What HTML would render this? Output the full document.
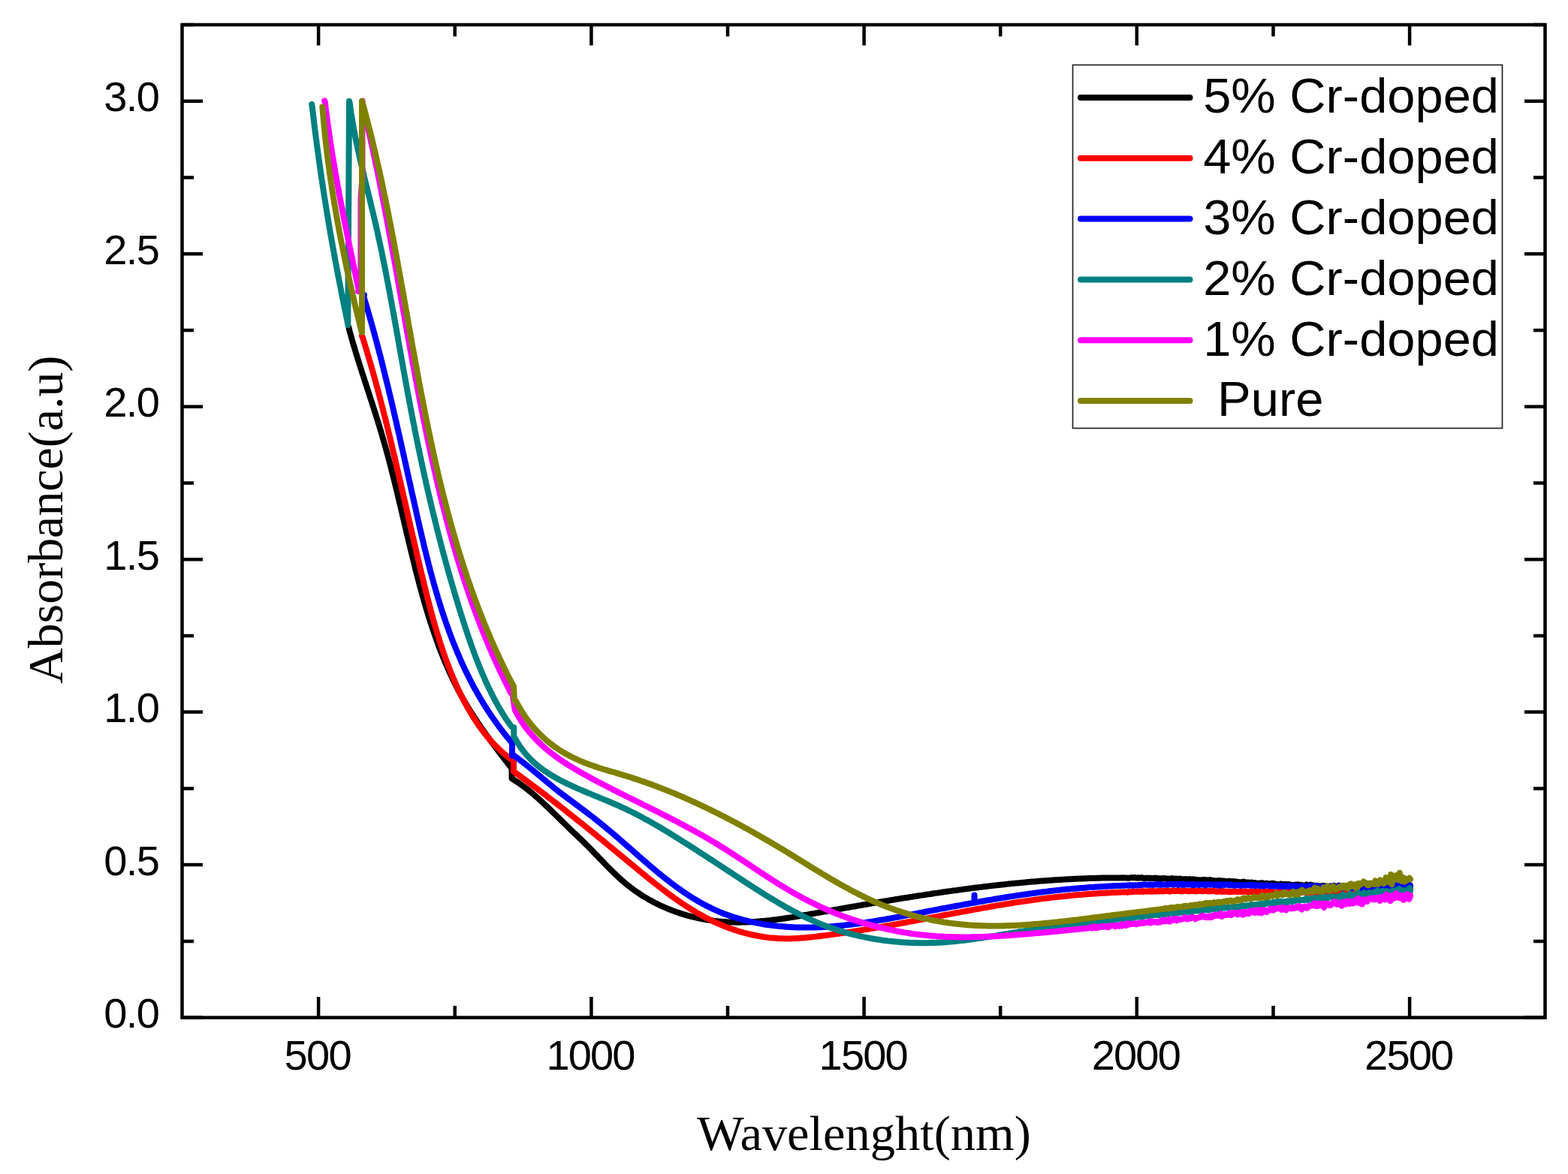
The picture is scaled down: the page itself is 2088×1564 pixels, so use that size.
<!DOCTYPE html>
<html><head><meta charset="utf-8"><title>Absorbance spectra</title>
<style>html,body{margin:0;padding:0;background:#fff;}svg{display:block;}</style></head>
<body>
<svg width="2088" height="1564" viewBox="0 0 2088 1564">
<rect width="2088" height="1564" fill="#ffffff"/>
<g fill="none" stroke-width="8.0" stroke-linejoin="round" stroke-linecap="round">
<path d="M464.4,436.0 L464.9,438.5 L465.5,440.9 L466.2,443.3 L466.9,445.8 L467.6,448.2 L468.2,450.6 L468.9,453.0 L469.6,455.4 L470.3,457.9 L471.0,460.3 L471.8,462.7 L472.5,465.1 L473.2,467.5 L473.9,469.9 L474.7,472.3 L475.4,474.7 L476.2,477.2 L476.9,479.6 L477.7,482.0 L478.4,484.4 L479.2,486.8 L479.9,489.2 L480.7,491.6 L481.5,494.0 L482.2,496.4 L483.0,498.8 L483.8,501.2 L484.6,503.6 L485.3,506.0 L486.1,508.4 L486.9,510.8 L487.7,513.1 L488.4,515.5 L489.2,517.9 L490.0,520.3 L490.8,522.7 L491.6,525.1 L492.3,527.5 L493.1,529.9 L493.9,532.3 L494.7,534.7 L495.5,537.1 L496.2,539.5 L497.0,541.9 L497.8,544.3 L498.5,546.7 L499.3,549.1 L500.1,551.5 L500.8,553.9 L501.6,556.3 L502.3,558.7 L503.1,561.1 L503.8,563.5 L504.6,565.9 L505.3,568.3 L506.0,570.7 L506.8,573.1 L507.5,575.6 L508.2,578.0 L508.9,580.4 L509.6,582.8 L510.3,585.2 L511.0,587.6 L511.7,590.0 L512.4,592.5 L513.1,594.9 L513.8,597.3 L514.4,599.7 L515.1,602.2 L515.8,604.6 L516.4,607.0 L517.1,609.4 L517.7,611.9 L518.4,614.3 L519.0,616.7 L519.6,619.2 L520.3,621.6 L520.9,624.0 L521.5,626.5 L522.1,628.9 L522.8,631.4 L523.4,633.8 L524.0,636.2 L524.6,638.7 L525.2,641.1 L525.8,643.6 L526.4,646.0 L527.0,648.4 L527.6,650.9 L528.2,653.3 L528.8,655.8 L529.4,658.2 L530.0,660.7 L530.5,663.1 L531.1,665.6 L531.7,668.0 L532.3,670.5 L532.9,672.9 L533.5,675.4 L534.0,677.8 L534.6,680.3 L535.2,682.7 L535.8,685.2 L536.3,687.6 L536.9,690.1 L537.5,692.5 L538.1,695.0 L538.6,697.4 L539.2,699.9 L539.8,702.3 L540.4,704.8 L540.9,707.3 L541.5,709.7 L542.1,712.2 L542.7,714.6 L543.3,717.1 L543.8,719.5 L544.4,722.0 L545.0,724.4 L545.6,726.9 L546.2,729.3 L546.8,731.8 L547.4,734.2 L548.0,736.7 L548.6,739.1 L549.2,741.6 L549.8,744.0 L550.4,746.5 L551.0,748.9 L551.6,751.4 L552.2,753.8 L552.8,756.3 L553.4,758.7 L554.0,761.2 L554.7,763.6 L555.3,766.0 L555.9,768.5 L556.6,770.9 L557.2,773.4 L557.8,775.8 L558.5,778.3 L559.1,780.7 L559.8,783.1 L560.5,785.6 L561.1,788.0 L561.8,790.4 L562.5,792.9 L563.2,795.3 L563.9,797.7 L564.5,800.2 L565.2,802.6 L565.9,805.0 L566.7,807.4 L567.4,809.8 L568.1,812.3 L568.8,814.7 L569.6,817.1 L570.3,819.5 L571.0,821.9 L571.8,824.3 L572.6,826.7 L573.3,829.1 L574.1,831.5 L574.9,833.9 L575.7,836.3 L576.5,838.7 L577.3,841.1 L578.1,843.4 L578.9,845.8 L579.8,848.2 L580.6,850.6 L581.4,852.9 L582.3,855.3 L583.2,857.7 L584.0,860.0 L584.9,862.4 L585.8,864.7 L586.7,867.0 L587.6,869.4 L588.6,871.7 L589.5,874.0 L590.4,876.4 L591.4,878.7 L592.3,881.0 L593.3,883.3 L594.3,885.6 L595.3,887.9 L596.3,890.2 L597.3,892.5 L598.3,894.8 L599.4,897.0 L600.4,899.3 L601.5,901.6 L602.5,903.8 L603.6,906.1 L604.7,908.3 L605.8,910.6 L606.9,912.8 L608.1,915.1 L609.2,917.3 L610.4,919.5 L611.5,921.7 L612.7,923.9 L613.9,926.1 L615.1,928.3 L616.3,930.5 L617.6,932.7 L618.8,934.8 L620.1,937.0 L621.3,939.1 L622.6,941.3 L623.9,943.4 L625.2,945.6 L626.6,947.7 L627.9,949.8 L629.2,951.9 L630.6,954.1 L632.0,956.2 L633.4,958.3 L634.7,960.3 L636.1,962.4 L637.6,964.5 L639.0,966.6 L640.4,968.7 L641.8,970.7 L643.3,972.8 L644.7,974.9 L646.2,976.9 L647.7,979.0 L649.1,981.0 L650.6,983.0 L652.1,985.1 L653.6,987.1 L655.1,989.2 L656.6,991.2 L658.1,993.2 L659.6,995.2 L661.2,997.2 L662.7,999.3 L664.2,1001.3 L665.7,1003.3 L667.3,1005.3 L668.8,1007.3 L670.4,1009.3 L671.9,1011.3 L673.4,1013.3 L675.0,1015.3 L676.5,1017.3 L678.1,1019.3 L679.6,1021.3 L681.2,1023.3 L681.5,1026.0 L681.5,1037.0 L683.5,1038.5 L685.7,1039.8 L687.8,1041.2 L689.9,1042.5 L692.0,1044.0 L694.0,1045.4 L696.1,1046.9 L698.1,1048.4 L700.1,1049.9 L702.1,1051.4 L704.0,1053.0 L706.0,1054.5 L707.9,1056.1 L709.8,1057.7 L711.7,1059.3 L713.6,1061.0 L715.5,1062.6 L717.4,1064.3 L719.2,1066.0 L721.1,1067.7 L722.9,1069.4 L724.7,1071.1 L726.5,1072.8 L728.4,1074.5 L730.2,1076.2 L732.0,1078.0 L733.8,1079.7 L735.5,1081.5 L737.3,1083.2 L739.1,1084.9 L740.9,1086.7 L742.7,1088.4 L744.5,1090.2 L746.2,1091.9 L748.0,1093.7 L749.8,1095.4 L751.6,1097.2 L753.4,1098.9 L755.2,1100.6 L757.0,1102.4 L758.7,1104.1 L760.5,1105.8 L762.3,1107.6 L764.1,1109.3 L765.9,1111.0 L767.7,1112.7 L769.6,1114.5 L771.4,1116.2 L773.2,1117.9 L775.0,1119.7 L776.8,1121.4 L778.5,1123.1 L780.3,1124.9 L782.1,1126.7 L783.9,1128.4 L785.6,1130.2 L787.4,1132.0 L789.1,1133.8 L790.9,1135.6 L792.6,1137.5 L794.4,1139.3 L796.1,1141.1 L797.9,1142.9 L799.6,1144.7 L801.4,1146.5 L803.1,1148.3 L804.9,1150.2 L806.6,1152.0 L808.4,1153.8 L810.2,1155.6 L811.9,1157.3 L813.7,1159.1 L815.5,1160.9 L817.3,1162.6 L819.1,1164.4 L821.0,1166.1 L822.8,1167.8 L824.6,1169.5 L826.5,1171.2 L828.4,1172.9 L830.2,1174.5 L832.2,1176.2 L834.1,1177.8 L836.0,1179.3 L838.0,1180.9 L839.9,1182.4 L841.9,1183.9 L843.9,1185.4 L846.0,1186.9 L848.0,1188.3 L850.1,1189.7 L852.2,1191.1 L854.3,1192.5 L856.4,1193.8 L858.5,1195.1 L860.7,1196.4 L862.8,1197.7 L865.0,1198.9 L867.2,1200.1 L869.4,1201.3 L871.6,1202.5 L873.9,1203.6 L876.1,1204.7 L878.4,1205.8 L880.7,1206.9 L883.0,1207.9 L885.3,1208.9 L887.6,1209.9 L889.9,1210.9 L892.2,1211.8 L894.6,1212.7 L896.9,1213.6 L899.3,1214.5 L901.7,1215.3 L904.0,1216.1 L906.4,1216.9 L908.8,1217.6 L911.2,1218.4 L913.6,1219.1 L916.1,1219.8 L918.5,1220.4 L920.9,1221.1 L923.3,1221.7 L925.8,1222.2 L928.2,1222.8 L930.7,1223.3 L933.1,1223.8 L935.6,1224.3 L938.1,1224.8 L940.5,1225.2 L943.0,1225.6 L945.5,1226.0 L948.0,1226.3 L950.4,1226.7 L952.9,1227.0 L955.4,1227.3 L957.9,1227.5 L960.4,1227.7 L962.8,1227.9 L965.3,1228.1 L967.8,1228.3 L970.3,1228.4 L972.8,1228.5 L975.2,1228.6 L977.7,1228.6 L980.2,1228.7 L982.7,1228.7 L985.2,1228.7 L987.6,1228.6 L990.1,1228.6 L992.6,1228.5 L995.1,1228.4 L997.6,1228.3 L1000.0,1228.2 L1002.5,1228.1 L1005.0,1227.9 L1007.5,1227.7 L1010.0,1227.6 L1012.4,1227.3 L1014.9,1227.1 L1017.4,1226.9 L1019.9,1226.6 L1022.3,1226.4 L1024.8,1226.1 L1027.3,1225.8 L1029.8,1225.5 L1032.3,1225.2 L1034.7,1224.9 L1037.2,1224.5 L1039.7,1224.2 L1042.2,1223.9 L1044.7,1223.5 L1047.1,1223.1 L1049.6,1222.7 L1052.1,1222.4 L1054.6,1222.0 L1057.1,1221.6 L1059.5,1221.2 L1062.0,1220.7 L1064.5,1220.3 L1067.0,1219.9 L1069.4,1219.5 L1071.9,1219.0 L1074.4,1218.6 L1076.9,1218.2 L1079.4,1217.7 L1081.8,1217.3 L1084.3,1216.9 L1086.8,1216.4 L1089.3,1216.0 L1091.8,1215.5 L1094.2,1215.1 L1096.7,1214.7 L1099.2,1214.2 L1101.7,1213.8 L1104.1,1213.3 L1106.6,1212.9 L1109.1,1212.5 L1111.6,1212.0 L1114.1,1211.6 L1116.5,1211.2 L1119.0,1210.7 L1121.5,1210.3 L1124.0,1209.8 L1126.5,1209.4 L1128.9,1209.0 L1131.4,1208.5 L1133.9,1208.1 L1136.4,1207.7 L1138.8,1207.3 L1141.3,1206.8 L1143.8,1206.4 L1146.3,1206.0 L1148.8,1205.5 L1151.2,1205.1 L1153.7,1204.7 L1156.2,1204.3 L1158.7,1203.8 L1161.2,1203.4 L1163.6,1203.0 L1166.1,1202.6 L1168.6,1202.2 L1171.1,1201.7 L1173.6,1201.3 L1176.0,1200.9 L1178.5,1200.5 L1181.0,1200.1 L1183.5,1199.7 L1186.0,1199.3 L1188.4,1198.9 L1190.9,1198.5 L1193.4,1198.0 L1195.9,1197.6 L1198.4,1197.2 L1200.8,1196.8 L1203.3,1196.4 L1205.8,1196.0 L1208.3,1195.7 L1210.8,1195.3 L1213.2,1194.9 L1215.7,1194.5 L1218.2,1194.1 L1220.7,1193.7 L1223.2,1193.3 L1225.6,1192.9 L1228.1,1192.6 L1230.6,1192.2 L1233.1,1191.8 L1235.6,1191.4 L1238.1,1191.1 L1240.5,1190.7 L1243.0,1190.3 L1245.5,1189.9 L1248.0,1189.6 L1250.5,1189.2 L1253.0,1188.9 L1255.4,1188.5 L1257.9,1188.1 L1260.4,1187.8 L1262.9,1187.4 L1265.4,1187.1 L1267.8,1186.8 L1270.3,1186.4 L1272.8,1186.1 L1275.3,1185.7 L1277.8,1185.4 L1280.3,1185.1 L1282.8,1184.7 L1285.2,1184.4 L1287.7,1184.1 L1290.2,1183.8 L1292.7,1183.4 L1295.2,1183.1 L1297.7,1182.8 L1300.1,1182.5 L1302.6,1182.2 L1305.1,1181.9 L1307.6,1181.6 L1310.1,1181.3 L1312.6,1181.0 L1315.1,1180.7 L1317.5,1180.4 L1320.0,1180.1 L1322.5,1179.8 L1325.0,1179.5 L1327.5,1179.3 L1330.0,1179.0 L1332.5,1178.7 L1335.0,1178.4 L1337.4,1178.2 L1339.9,1177.9 L1342.4,1177.6 L1344.9,1177.4 L1347.4,1177.1 L1349.9,1176.9 L1352.4,1176.6 L1354.9,1176.4 L1357.4,1176.2 L1359.8,1175.9 L1362.3,1175.7 L1364.8,1175.5 L1367.3,1175.2 L1369.8,1175.0 L1372.3,1174.8 L1374.8,1174.6 L1377.3,1174.4 L1379.8,1174.2 L1382.3,1174.0 L1384.7,1173.8 L1387.2,1173.6 L1389.7,1173.4 L1392.2,1173.2 L1394.7,1173.0 L1397.2,1172.9 L1399.7,1172.7 L1402.2,1172.5 L1404.7,1172.3 L1407.2,1172.2 L1409.7,1172.0 L1412.2,1171.9 L1414.7,1171.7 L1417.2,1171.6 L1419.7,1171.4 L1422.1,1171.3 L1424.6,1171.2 L1427.1,1171.0 L1429.6,1170.9 L1432.1,1170.8 L1434.6,1170.7 L1437.1,1170.6 L1439.6,1170.5 L1442.1,1170.4 L1444.6,1170.3 L1447.1,1170.2 L1449.6,1170.1 L1452.1,1170.0 L1454.6,1169.9 L1457.1,1169.9 L1459.6,1169.8 L1462.1,1169.7 L1464.6,1169.7 L1467.1,1169.6 L1469.6,1169.6 L1472.1,1169.5 L1474.6,1169.5 L1477.1,1169.5 L1479.6,1169.4 L1482.1,1169.4 L1484.6,1169.4 L1487.1,1169.4 L1489.6,1169.4 L1492.1,1169.4 L1494.6,1169.3 L1497.1,1169.4 L1499.6,1169.4 L1502.1,1169.8 L1503.4,1169.8 L1504.7,1169.4 L1506.0,1169.2 L1507.3,1169.1 L1508.6,1169.4 L1509.9,1169.1 L1511.2,1169.0 L1512.5,1169.5 L1513.8,1169.5 L1515.1,1169.7 L1516.4,1169.2 L1517.7,1169.5 L1519.0,1169.5 L1520.3,1169.1 L1521.6,1169.7 L1522.9,1169.7 L1524.2,1170.3 L1525.5,1169.7 L1526.8,1169.6 L1528.1,1170.1 L1529.4,1169.8 L1530.7,1170.0 L1532.0,1169.7 L1533.3,1169.9 L1534.6,1170.2 L1535.9,1170.1 L1537.2,1170.0 L1538.5,1169.6 L1539.8,1170.1 L1541.1,1170.0 L1542.4,1170.3 L1543.7,1170.2 L1545.0,1170.5 L1546.3,1170.2 L1547.6,1170.3 L1548.9,1170.5 L1550.2,1169.9 L1551.5,1170.2 L1552.8,1170.2 L1554.1,1171.0 L1555.4,1170.4 L1556.7,1170.7 L1558.0,1170.7 L1559.3,1170.5 L1560.6,1170.1 L1561.9,1171.0 L1563.2,1170.6 L1564.5,1171.0 L1565.8,1170.4 L1567.1,1170.7 L1568.4,1171.3 L1569.7,1171.4 L1571.0,1170.6 L1572.3,1170.7 L1573.6,1171.1 L1574.9,1171.4 L1576.2,1171.3 L1577.5,1171.4 L1578.8,1171.0 L1580.1,1171.6 L1581.4,1171.8 L1582.7,1171.4 L1584.0,1171.1 L1585.3,1171.4 L1586.6,1171.9 L1587.9,1171.2 L1589.2,1171.8 L1590.5,1171.5 L1591.8,1171.9 L1593.1,1171.9 L1594.4,1172.1 L1595.7,1172.6 L1597.0,1172.3 L1598.3,1172.7 L1599.6,1172.3 L1600.9,1172.2 L1602.2,1172.6 L1603.5,1171.7 L1604.8,1172.5 L1606.1,1172.7 L1607.4,1172.3 L1608.7,1172.9 L1610.0,1172.6 L1611.3,1172.1 L1612.6,1172.9 L1613.9,1172.7 L1615.2,1172.9 L1616.5,1173.1 L1617.8,1173.7 L1619.1,1173.3 L1620.4,1173.4 L1621.7,1173.6 L1623.0,1172.8 L1624.3,1174.0 L1625.6,1173.2 L1626.9,1173.9 L1628.2,1173.4 L1629.5,1173.5 L1630.8,1173.8 L1632.1,1174.7 L1633.4,1174.3 L1634.7,1173.9 L1636.0,1174.1 L1637.3,1173.8 L1638.6,1174.3 L1639.9,1174.2 L1641.2,1174.8 L1642.5,1174.0 L1643.8,1174.5 L1645.1,1174.4 L1646.4,1174.5 L1647.7,1175.1 L1649.0,1175.0 L1650.3,1175.2 L1651.6,1175.5 L1652.9,1175.6 L1654.2,1174.7 L1655.5,1175.5 L1656.8,1174.6 L1658.1,1175.4 L1659.4,1176.3 L1660.7,1175.5 L1662.0,1175.5 L1663.3,1175.8 L1664.6,1175.8 L1665.9,1175.9 L1667.2,1175.6 L1668.5,1176.5 L1669.8,1176.5 L1671.1,1176.1 L1672.4,1176.4 L1673.7,1176.6 L1675.0,1176.8 L1676.3,1176.6 L1677.6,1176.8 L1678.9,1176.5 L1680.2,1176.2 L1681.5,1176.5 L1682.8,1177.2 L1684.1,1177.3 L1685.4,1177.0 L1686.7,1176.7 L1688.0,1177.2 L1689.3,1177.9 L1690.6,1177.8 L1691.9,1177.0 L1693.2,1177.3 L1694.5,1176.8 L1695.8,1177.0 L1697.1,1177.6 L1698.4,1177.6 L1699.7,1178.1 L1701.0,1178.4 L1702.3,1178.2 L1703.6,1178.5 L1704.9,1177.7 L1706.2,1177.5 L1707.5,1178.3 L1708.8,1179.2 L1710.1,1178.4 L1711.4,1177.7 L1712.7,1178.5 L1714.0,1179.1 L1715.3,1178.0 L1716.6,1178.9 L1717.9,1178.3 L1719.2,1179.3 L1720.5,1179.1 L1721.8,1179.0 L1723.1,1179.9 L1724.4,1178.7 L1725.7,1178.6 L1727.0,1180.0 L1728.3,1178.6 L1729.6,1180.3 L1730.9,1179.2 L1732.2,1178.7 L1733.5,1179.3 L1734.8,1179.5 L1736.1,1179.6 L1737.4,1179.4 L1738.7,1180.1 L1740.0,1178.4 L1741.3,1179.4 L1742.6,1179.6 L1743.9,1180.8 L1745.2,1178.7 L1746.5,1179.7 L1747.8,1179.3 L1749.1,1179.6 L1750.4,1180.4 L1751.7,1180.3 L1753.0,1180.9 L1754.3,1179.8 L1755.6,1180.4 L1756.9,1180.9 L1758.2,1180.8 L1759.5,1180.2 L1760.8,1181.1 L1762.1,1179.9 L1763.4,1181.6 L1764.7,1180.6 L1766.0,1180.5 L1767.3,1180.8 L1768.6,1181.2 L1769.9,1181.7 L1771.2,1180.6 L1772.5,1180.5 L1773.8,1181.2 L1775.1,1180.3 L1776.4,1179.8 L1777.7,1181.4 L1779.0,1180.7 L1780.3,1181.7 L1781.6,1180.4 L1782.9,1179.6 L1784.2,1181.3 L1785.5,1181.2 L1786.8,1182.2 L1788.1,1181.5 L1789.4,1181.4 L1790.7,1181.6 L1792.0,1181.0 L1793.3,1181.3 L1794.6,1180.4 L1795.9,1181.6 L1797.2,1180.8 L1798.5,1181.0 L1799.8,1181.8 L1801.1,1182.0 L1802.4,1180.7 L1803.7,1182.8 L1805.0,1181.0 L1806.3,1182.0 L1807.6,1182.1 L1808.9,1181.6 L1810.2,1181.6 L1811.5,1182.8 L1812.8,1182.1 L1814.1,1181.8 L1815.4,1180.2 L1816.7,1181.0 L1818.0,1182.4 L1819.3,1181.7 L1820.6,1180.8 L1821.9,1181.0 L1823.2,1181.3 L1824.5,1182.0 L1825.8,1181.8 L1827.1,1182.3 L1828.4,1180.9 L1829.7,1182.2 L1831.0,1181.1 L1832.3,1181.3 L1833.6,1182.8 L1834.9,1181.5 L1836.2,1181.3 L1837.5,1181.3 L1838.8,1181.1 L1840.1,1182.6 L1841.4,1182.5 L1842.7,1181.9 L1844.0,1181.5 L1845.3,1182.2 L1846.6,1181.2 L1847.9,1181.6 L1849.2,1181.6 L1850.5,1181.3 L1851.8,1182.5 L1853.1,1182.6 L1854.4,1182.2 L1855.7,1179.5 L1857.0,1182.6 L1858.3,1181.6 L1859.6,1180.6 L1860.9,1180.9 L1862.2,1181.9 L1863.5,1181.9 L1864.8,1181.6 L1866.1,1180.9 L1867.4,1180.8 L1868.7,1181.4 L1870.0,1180.6 L1871.3,1179.8 L1872.6,1180.0 L1873.9,1180.4 L1875.2,1180.7 L1876.5,1182.4 L1877.8,1179.3 L1878.0,1180.9" stroke="#000000"/>
<path d="M482.0,447.4 L482.9,449.6 L483.7,452.0 L484.4,454.4 L485.2,456.8 L485.9,459.3 L486.6,461.7 L487.4,464.1 L488.1,466.6 L488.8,469.0 L489.5,471.4 L490.3,473.8 L491.0,476.3 L491.7,478.7 L492.4,481.1 L493.1,483.5 L493.8,486.0 L494.5,488.4 L495.2,490.8 L495.9,493.2 L496.6,495.7 L497.2,498.1 L497.9,500.5 L498.6,502.9 L499.3,505.4 L499.9,507.8 L500.6,510.2 L501.3,512.7 L501.9,515.1 L502.6,517.5 L503.2,519.9 L503.9,522.4 L504.5,524.8 L505.2,527.2 L505.8,529.6 L506.4,532.1 L507.1,534.5 L507.7,536.9 L508.3,539.3 L509.0,541.8 L509.6,544.2 L510.2,546.6 L510.8,549.1 L511.4,551.5 L512.1,553.9 L512.7,556.3 L513.3,558.8 L513.9,561.2 L514.5,563.6 L515.1,566.0 L515.7,568.5 L516.3,570.9 L516.9,573.3 L517.5,575.8 L518.1,578.2 L518.7,580.6 L519.3,583.0 L519.8,585.5 L520.4,587.9 L521.0,590.3 L521.6,592.8 L522.2,595.2 L522.7,597.6 L523.3,600.1 L523.9,602.5 L524.5,604.9 L525.1,607.3 L525.6,609.8 L526.2,612.2 L526.8,614.6 L527.3,617.1 L527.9,619.5 L528.5,621.9 L529.0,624.4 L529.6,626.8 L530.2,629.2 L530.7,631.7 L531.3,634.1 L531.8,636.5 L532.4,639.0 L533.0,641.4 L533.5,643.8 L534.1,646.3 L534.6,648.7 L535.2,651.1 L535.8,653.6 L536.3,656.0 L536.9,658.5 L537.4,660.9 L538.0,663.3 L538.5,665.8 L539.1,668.2 L539.7,670.6 L540.2,673.1 L540.8,675.5 L541.3,678.0 L541.9,680.4 L542.4,682.8 L543.0,685.3 L543.5,687.7 L544.1,690.2 L544.7,692.6 L545.2,695.0 L545.8,697.5 L546.3,699.9 L546.9,702.4 L547.5,704.8 L548.0,707.3 L548.6,709.7 L549.1,712.1 L549.7,714.6 L550.3,717.0 L550.8,719.5 L551.4,721.9 L552.0,724.4 L552.5,726.8 L553.1,729.3 L553.7,731.7 L554.2,734.2 L554.8,736.6 L555.4,739.1 L555.9,741.5 L556.5,744.0 L557.1,746.4 L557.7,748.9 L558.3,751.3 L558.8,753.8 L559.4,756.2 L560.0,758.7 L560.6,761.1 L561.2,763.6 L561.8,766.0 L562.4,768.5 L563.0,770.9 L563.6,773.4 L564.2,775.9 L564.8,778.3 L565.4,780.8 L566.0,783.2 L566.6,785.7 L567.2,788.1 L567.8,790.6 L568.4,793.1 L569.0,795.5 L569.7,798.0 L570.3,800.4 L570.9,802.9 L571.6,805.3 L572.2,807.8 L572.8,810.2 L573.5,812.7 L574.1,815.1 L574.8,817.6 L575.5,820.0 L576.1,822.4 L576.8,824.9 L577.5,827.3 L578.2,829.8 L578.9,832.2 L579.6,834.6 L580.3,837.0 L581.0,839.5 L581.7,841.9 L582.5,844.3 L583.2,846.7 L584.0,849.1 L584.7,851.5 L585.5,854.0 L586.2,856.4 L587.0,858.8 L587.8,861.1 L588.6,863.5 L589.4,865.9 L590.2,868.3 L591.0,870.7 L591.9,873.1 L592.7,875.4 L593.6,877.8 L594.4,880.1 L595.3,882.5 L596.2,884.8 L597.1,887.2 L598.0,889.5 L598.9,891.9 L599.8,894.2 L600.7,896.5 L601.7,898.8 L602.6,901.1 L603.6,903.4 L604.6,905.7 L605.6,908.0 L606.6,910.3 L607.6,912.6 L608.6,914.8 L609.7,917.1 L610.7,919.4 L611.8,921.6 L612.9,923.9 L614.0,926.1 L615.1,928.3 L616.2,930.5 L617.4,932.7 L618.5,934.9 L619.7,937.1 L620.9,939.3 L622.1,941.5 L623.3,943.7 L624.5,945.8 L625.8,948.0 L627.0,950.1 L628.3,952.3 L629.6,954.4 L630.9,956.5 L632.3,958.6 L633.6,960.7 L635.0,962.7 L636.4,964.8 L637.8,966.8 L639.3,968.8 L640.7,970.9 L642.2,972.8 L643.7,974.8 L645.2,976.8 L646.8,978.7 L648.3,980.7 L649.9,982.6 L651.5,984.5 L653.2,986.3 L654.8,988.2 L656.5,990.0 L658.2,991.8 L660.0,993.6 L661.8,995.4 L663.6,997.2 L665.4,998.9 L667.2,1000.6 L669.1,1002.3 L671.0,1004.0 L673.0,1005.6 L674.9,1007.2 L676.9,1008.8 L678.9,1010.4 L681.0,1011.9 L684.0,1012.0 L684.0,1028.0 L686.1,1029.3 L688.1,1030.8 L690.2,1032.3 L692.2,1033.7 L694.2,1035.2 L696.3,1036.7 L698.3,1038.2 L700.4,1039.7 L702.4,1041.2 L704.4,1042.7 L706.4,1044.2 L708.4,1045.7 L710.5,1047.2 L712.5,1048.7 L714.5,1050.2 L716.5,1051.7 L718.5,1053.2 L720.5,1054.7 L722.5,1056.3 L724.5,1057.8 L726.5,1059.3 L728.5,1060.8 L730.4,1062.3 L732.4,1063.9 L734.4,1065.4 L736.4,1066.9 L738.4,1068.4 L740.3,1070.0 L742.3,1071.5 L744.3,1073.0 L746.2,1074.6 L748.2,1076.1 L750.2,1077.7 L752.1,1079.2 L754.1,1080.7 L756.1,1082.3 L758.0,1083.8 L760.0,1085.4 L761.9,1086.9 L763.9,1088.5 L765.8,1090.0 L767.8,1091.6 L769.7,1093.1 L771.7,1094.7 L773.6,1096.3 L775.6,1097.8 L777.5,1099.4 L779.4,1100.9 L781.4,1102.5 L783.3,1104.1 L785.3,1105.6 L787.2,1107.2 L789.1,1108.8 L791.1,1110.4 L793.0,1111.9 L794.9,1113.5 L796.9,1115.1 L798.8,1116.7 L800.7,1118.3 L802.7,1119.8 L804.6,1121.4 L806.5,1123.0 L808.5,1124.6 L810.4,1126.2 L812.3,1127.8 L814.3,1129.4 L816.2,1131.0 L818.2,1132.6 L820.1,1134.2 L822.0,1135.8 L824.0,1137.4 L825.9,1139.0 L827.8,1140.6 L829.8,1142.2 L831.7,1143.8 L833.6,1145.4 L835.6,1147.0 L837.5,1148.6 L839.5,1150.2 L841.4,1151.8 L843.4,1153.4 L845.3,1155.0 L847.3,1156.6 L849.2,1158.2 L851.2,1159.9 L853.1,1161.5 L855.1,1163.1 L857.0,1164.7 L859.0,1166.3 L860.9,1167.9 L862.9,1169.5 L864.9,1171.1 L866.9,1172.6 L868.8,1174.2 L870.8,1175.8 L872.8,1177.4 L874.8,1178.9 L876.8,1180.5 L878.8,1182.0 L880.8,1183.6 L882.8,1185.1 L884.8,1186.7 L886.8,1188.2 L888.8,1189.7 L890.9,1191.2 L892.9,1192.7 L894.9,1194.2 L897.0,1195.6 L899.0,1197.1 L901.1,1198.5 L903.2,1200.0 L905.2,1201.4 L907.3,1202.8 L909.4,1204.2 L911.5,1205.6 L913.6,1207.0 L915.7,1208.3 L917.8,1209.7 L919.9,1211.0 L922.1,1212.3 L924.2,1213.6 L926.4,1214.9 L928.5,1216.2 L930.7,1217.4 L932.9,1218.6 L935.0,1219.9 L937.2,1221.0 L939.4,1222.2 L941.6,1223.4 L943.9,1224.5 L946.1,1225.6 L948.3,1226.7 L950.6,1227.8 L952.9,1228.9 L955.1,1229.9 L957.4,1230.9 L959.7,1231.9 L962.0,1232.9 L964.3,1233.8 L966.7,1234.7 L969.0,1235.6 L971.4,1236.5 L973.7,1237.3 L976.1,1238.1 L978.5,1238.9 L980.8,1239.7 L983.2,1240.5 L985.6,1241.2 L988.0,1241.9 L990.5,1242.6 L992.9,1243.2 L995.3,1243.8 L997.8,1244.4 L1000.2,1245.0 L1002.6,1245.5 L1005.1,1246.0 L1007.6,1246.5 L1010.0,1247.0 L1012.5,1247.4 L1015.0,1247.8 L1017.4,1248.2 L1019.9,1248.5 L1022.4,1248.9 L1024.9,1249.2 L1027.4,1249.4 L1029.9,1249.6 L1032.4,1249.8 L1034.9,1250.0 L1037.4,1250.2 L1039.8,1250.3 L1042.3,1250.3 L1044.8,1250.4 L1047.3,1250.4 L1049.8,1250.4 L1052.3,1250.4 L1054.8,1250.3 L1057.3,1250.2 L1059.8,1250.1 L1062.3,1249.9 L1064.8,1249.8 L1067.3,1249.6 L1069.8,1249.4 L1072.3,1249.2 L1074.8,1248.9 L1077.3,1248.7 L1079.8,1248.4 L1082.3,1248.2 L1084.7,1247.9 L1087.2,1247.6 L1089.7,1247.3 L1092.2,1247.0 L1094.7,1246.7 L1097.2,1246.4 L1099.7,1246.1 L1102.2,1245.8 L1104.7,1245.4 L1107.1,1245.1 L1109.6,1244.8 L1112.1,1244.4 L1114.6,1244.1 L1117.1,1243.7 L1119.6,1243.4 L1122.0,1243.0 L1124.5,1242.7 L1127.0,1242.3 L1129.5,1241.9 L1132.0,1241.5 L1134.5,1241.2 L1136.9,1240.8 L1139.4,1240.4 L1141.9,1240.0 L1144.4,1239.6 L1146.9,1239.2 L1149.3,1238.8 L1151.8,1238.4 L1154.3,1238.0 L1156.8,1237.6 L1159.2,1237.2 L1161.7,1236.7 L1164.2,1236.3 L1166.7,1235.9 L1169.1,1235.5 L1171.6,1235.0 L1174.1,1234.6 L1176.6,1234.2 L1179.0,1233.7 L1181.5,1233.3 L1184.0,1232.9 L1186.5,1232.4 L1188.9,1232.0 L1191.4,1231.5 L1193.9,1231.1 L1196.4,1230.6 L1198.8,1230.2 L1201.3,1229.7 L1203.8,1229.3 L1206.3,1228.8 L1208.7,1228.3 L1211.2,1227.9 L1213.7,1227.4 L1216.1,1227.0 L1218.6,1226.5 L1221.1,1226.0 L1223.6,1225.6 L1226.0,1225.1 L1228.5,1224.6 L1231.0,1224.2 L1233.4,1223.7 L1235.9,1223.2 L1238.4,1222.8 L1240.8,1222.3 L1243.3,1221.8 L1245.8,1221.4 L1248.3,1220.9 L1250.7,1220.4 L1253.2,1219.9 L1255.7,1219.5 L1258.1,1219.0 L1260.6,1218.5 L1263.1,1218.1 L1265.6,1217.6 L1268.0,1217.1 L1270.5,1216.7 L1273.0,1216.2 L1275.4,1215.8 L1277.9,1215.3 L1280.4,1214.8 L1282.8,1214.4 L1285.3,1213.9 L1287.8,1213.5 L1290.3,1213.0 L1292.7,1212.6 L1295.2,1212.1 L1297.7,1211.7 L1300.1,1211.2 L1302.6,1210.8 L1305.1,1210.3 L1307.6,1209.9 L1310.0,1209.4 L1312.5,1209.0 L1315.0,1208.6 L1317.5,1208.1 L1319.9,1207.7 L1322.4,1207.3 L1324.9,1206.9 L1327.3,1206.4 L1329.8,1206.0 L1332.3,1205.6 L1334.8,1205.2 L1337.2,1204.8 L1339.7,1204.4 L1342.2,1204.0 L1344.7,1203.6 L1347.1,1203.2 L1349.6,1202.8 L1352.1,1202.4 L1354.6,1202.0 L1357.1,1201.6 L1359.5,1201.3 L1362.0,1200.9 L1364.5,1200.5 L1367.0,1200.2 L1369.4,1199.8 L1371.9,1199.5 L1374.4,1199.1 L1376.9,1198.8 L1379.4,1198.4 L1381.9,1198.1 L1384.3,1197.8 L1386.8,1197.4 L1389.3,1197.1 L1391.8,1196.8 L1394.3,1196.5 L1396.8,1196.2 L1399.2,1195.9 L1401.7,1195.6 L1404.2,1195.3 L1406.7,1195.0 L1409.2,1194.7 L1411.7,1194.5 L1414.2,1194.2 L1416.6,1194.0 L1419.1,1193.7 L1421.6,1193.5 L1424.1,1193.2 L1426.6,1193.0 L1429.1,1192.7 L1431.6,1192.5 L1434.1,1192.3 L1436.6,1192.1 L1439.1,1191.9 L1441.6,1191.7 L1444.1,1191.5 L1446.6,1191.3 L1449.0,1191.1 L1451.5,1190.9 L1454.0,1190.8 L1456.5,1190.6 L1459.0,1190.4 L1461.5,1190.3 L1464.0,1190.1 L1466.5,1189.9 L1469.0,1189.8 L1471.5,1189.7 L1474.0,1189.5 L1476.5,1189.4 L1479.0,1189.3 L1481.5,1189.1 L1484.0,1189.0 L1486.5,1188.9 L1489.0,1188.8 L1491.5,1188.7 L1494.0,1188.6 L1496.5,1188.5 L1499.0,1188.4 L1501.5,1188.9 L1502.8,1188.0 L1504.1,1188.3 L1505.4,1188.2 L1506.7,1188.4 L1508.0,1187.6 L1509.3,1187.9 L1510.6,1187.8 L1511.9,1187.6 L1513.2,1187.7 L1514.5,1187.7 L1515.8,1187.8 L1517.1,1187.5 L1518.4,1187.9 L1519.7,1187.6 L1521.0,1187.0 L1522.3,1188.0 L1523.6,1187.5 L1524.9,1187.4 L1526.2,1187.7 L1527.5,1187.6 L1528.8,1187.5 L1530.1,1187.2 L1531.4,1187.5 L1532.7,1187.0 L1534.0,1187.9 L1535.3,1187.0 L1536.6,1187.3 L1537.9,1187.4 L1539.2,1187.4 L1540.5,1187.2 L1541.8,1187.5 L1543.1,1186.6 L1544.4,1187.2 L1545.7,1187.2 L1547.0,1187.1 L1548.3,1187.7 L1549.6,1186.9 L1550.9,1187.1 L1552.2,1186.5 L1553.5,1187.2 L1554.8,1186.6 L1556.1,1186.6 L1557.4,1187.8 L1558.7,1187.3 L1560.0,1187.1 L1561.3,1187.1 L1562.6,1186.6 L1563.9,1186.7 L1565.2,1187.2 L1566.5,1186.4 L1567.8,1187.1 L1569.1,1186.5 L1570.4,1187.1 L1571.7,1186.7 L1573.0,1187.6 L1574.3,1187.4 L1575.6,1186.9 L1576.9,1186.4 L1578.2,1186.8 L1579.5,1187.0 L1580.8,1186.7 L1582.1,1187.1 L1583.4,1187.4 L1584.7,1187.0 L1586.0,1186.9 L1587.3,1187.3 L1588.6,1186.9 L1589.9,1187.3 L1591.2,1186.9 L1592.5,1187.6 L1593.8,1187.0 L1595.1,1186.7 L1596.4,1187.1 L1597.7,1186.9 L1599.0,1186.8 L1600.3,1187.1 L1601.6,1187.4 L1602.9,1186.4 L1604.2,1187.1 L1605.5,1187.1 L1606.8,1187.1 L1608.1,1187.4 L1609.4,1186.7 L1610.7,1187.4 L1612.0,1187.1 L1613.3,1187.2 L1614.6,1187.1 L1615.9,1187.1 L1617.2,1187.0 L1618.5,1187.4 L1619.8,1188.0 L1621.1,1187.7 L1622.4,1187.6 L1623.7,1187.5 L1625.0,1187.1 L1626.3,1187.6 L1627.6,1188.1 L1628.9,1186.9 L1630.2,1187.7 L1631.5,1187.8 L1632.8,1187.5 L1634.1,1187.7 L1635.4,1188.0 L1636.7,1188.3 L1638.0,1188.0 L1639.3,1188.2 L1640.6,1187.6 L1641.9,1187.9 L1643.2,1187.6 L1644.5,1187.7 L1645.8,1187.4 L1647.1,1187.9 L1648.4,1188.2 L1649.7,1187.6 L1651.0,1187.8 L1652.3,1187.9 L1653.6,1187.7 L1654.9,1188.1 L1656.2,1187.8 L1657.5,1187.2 L1658.8,1187.3 L1660.1,1188.1 L1661.4,1188.1 L1662.7,1188.3 L1664.0,1187.9 L1665.3,1187.9 L1666.6,1187.2 L1667.9,1188.5 L1669.2,1187.5 L1670.5,1188.4 L1671.8,1187.4 L1673.1,1187.7 L1674.4,1188.0 L1675.7,1187.8 L1677.0,1187.7 L1678.3,1188.4 L1679.6,1188.4 L1680.9,1188.2 L1682.2,1187.9 L1683.5,1187.7 L1684.8,1187.9 L1686.1,1187.9 L1687.4,1188.1 L1688.7,1188.5 L1690.0,1188.1 L1691.3,1187.8 L1692.6,1187.9 L1693.9,1188.9 L1695.2,1188.3 L1696.5,1188.4 L1697.8,1188.4 L1699.1,1188.6 L1700.4,1188.4 L1701.7,1188.9 L1703.0,1188.7 L1704.3,1187.2 L1705.6,1188.3 L1706.9,1189.5 L1708.2,1187.7 L1709.5,1188.5 L1710.8,1189.0 L1712.1,1188.4 L1713.4,1189.1 L1714.7,1187.8 L1716.0,1187.8 L1717.3,1188.4 L1718.6,1188.1 L1719.9,1187.9 L1721.2,1188.8 L1722.5,1188.7 L1723.8,1188.5 L1725.1,1188.3 L1726.4,1188.7 L1727.7,1188.5 L1729.0,1188.1 L1730.3,1188.8 L1731.6,1188.8 L1732.9,1188.6 L1734.2,1189.0 L1735.5,1187.9 L1736.8,1188.5 L1738.1,1188.3 L1739.4,1189.4 L1740.7,1188.9 L1742.0,1189.8 L1743.3,1189.5 L1744.6,1188.4 L1745.9,1187.9 L1747.2,1188.9 L1748.5,1188.4 L1749.8,1188.5 L1751.1,1187.9 L1752.4,1189.0 L1753.7,1188.7 L1755.0,1188.8 L1756.3,1188.8 L1757.6,1188.0 L1758.9,1187.2 L1760.2,1188.4 L1761.5,1188.2 L1762.8,1188.2 L1764.1,1189.2 L1765.4,1188.5 L1766.7,1189.5 L1768.0,1188.6 L1769.3,1189.0 L1770.6,1188.8 L1771.9,1189.0 L1773.2,1187.6 L1774.5,1189.2 L1775.8,1188.5 L1777.1,1187.8 L1778.4,1188.8 L1779.7,1188.6 L1781.0,1189.3 L1782.3,1188.9 L1783.6,1188.6 L1784.9,1187.2 L1786.2,1189.5 L1787.5,1189.3 L1788.8,1188.8 L1790.1,1188.6 L1791.4,1189.1 L1792.7,1187.6 L1794.0,1188.7 L1795.3,1188.2 L1796.6,1187.4 L1797.9,1188.4 L1799.2,1188.3 L1800.5,1189.3 L1801.8,1188.7 L1803.1,1186.8 L1804.4,1186.5 L1805.7,1187.9 L1807.0,1187.7 L1808.3,1187.1 L1809.6,1186.7 L1810.9,1187.6 L1812.2,1186.8 L1813.5,1187.2 L1814.8,1188.3 L1816.1,1187.8 L1817.4,1187.0 L1818.7,1186.6 L1820.0,1187.3 L1821.3,1188.8 L1822.6,1187.0 L1823.9,1188.8 L1825.2,1186.7 L1826.5,1187.1 L1827.8,1187.8 L1829.1,1186.5 L1830.4,1187.2 L1831.7,1185.9 L1833.0,1187.6 L1834.3,1187.9 L1835.6,1186.3 L1836.9,1187.0 L1838.2,1186.4 L1839.5,1184.8 L1840.8,1188.6 L1842.1,1187.1 L1843.4,1187.3 L1844.7,1186.8 L1846.0,1186.5 L1847.3,1188.3 L1848.6,1184.6 L1849.9,1185.9 L1851.2,1185.7 L1852.5,1185.9 L1853.8,1186.6 L1855.1,1185.2 L1856.4,1184.6 L1857.7,1184.7 L1859.0,1186.1 L1860.3,1186.5 L1861.6,1186.3 L1862.9,1186.9 L1864.2,1184.9 L1865.5,1186.2 L1866.8,1185.8 L1868.1,1184.9 L1869.4,1184.3 L1870.7,1185.8 L1872.0,1184.2 L1873.3,1184.4 L1874.6,1183.7 L1875.9,1186.4 L1877.2,1184.8 L1878.0,1184.5" stroke="#ff0000"/>
<path d="M485.0,393.0 L484.5,395.8 L485.2,398.2 L485.9,400.6 L486.6,403.0 L487.4,405.4 L488.1,407.8 L488.8,410.2 L489.5,412.6 L490.2,415.0 L490.9,417.5 L491.6,419.9 L492.3,422.3 L493.0,424.7 L493.6,427.1 L494.3,429.5 L495.0,431.9 L495.7,434.4 L496.4,436.8 L497.0,439.2 L497.7,441.6 L498.4,444.0 L499.0,446.5 L499.7,448.9 L500.3,451.3 L501.0,453.7 L501.6,456.1 L502.3,458.6 L502.9,461.0 L503.5,463.4 L504.2,465.8 L504.8,468.3 L505.4,470.7 L506.1,473.1 L506.7,475.5 L507.3,478.0 L507.9,480.4 L508.6,482.8 L509.2,485.3 L509.8,487.7 L510.4,490.1 L511.0,492.6 L511.6,495.0 L512.2,497.4 L512.8,499.9 L513.4,502.3 L514.0,504.7 L514.6,507.2 L515.2,509.6 L515.8,512.0 L516.4,514.5 L517.0,516.9 L517.6,519.4 L518.1,521.8 L518.7,524.2 L519.3,526.7 L519.9,529.1 L520.5,531.6 L521.0,534.0 L521.6,536.4 L522.2,538.9 L522.8,541.3 L523.3,543.8 L523.9,546.2 L524.5,548.7 L525.0,551.1 L525.6,553.5 L526.2,556.0 L526.7,558.4 L527.3,560.9 L527.8,563.3 L528.4,565.8 L528.9,568.2 L529.5,570.7 L530.1,573.1 L530.6,575.6 L531.2,578.0 L531.7,580.5 L532.3,582.9 L532.8,585.4 L533.4,587.8 L533.9,590.3 L534.5,592.7 L535.0,595.2 L535.6,597.6 L536.1,600.1 L536.7,602.5 L537.2,605.0 L537.7,607.5 L538.3,609.9 L538.8,612.4 L539.4,614.8 L539.9,617.3 L540.5,619.7 L541.0,622.2 L541.6,624.6 L542.1,627.1 L542.6,629.6 L543.2,632.0 L543.7,634.5 L544.3,636.9 L544.8,639.4 L545.4,641.9 L545.9,644.3 L546.5,646.8 L547.0,649.2 L547.5,651.7 L548.1,654.2 L548.6,656.6 L549.2,659.1 L549.7,661.5 L550.3,664.0 L550.8,666.5 L551.4,668.9 L551.9,671.4 L552.5,673.9 L553.0,676.3 L553.6,678.8 L554.1,681.3 L554.7,683.7 L555.2,686.2 L555.8,688.6 L556.3,691.1 L556.9,693.6 L557.5,696.0 L558.0,698.5 L558.6,701.0 L559.1,703.4 L559.7,705.9 L560.3,708.3 L560.9,710.8 L561.4,713.3 L562.0,715.7 L562.6,718.2 L563.2,720.6 L563.8,723.1 L564.3,725.6 L564.9,728.0 L565.5,730.5 L566.1,732.9 L566.7,735.4 L567.3,737.8 L567.9,740.3 L568.5,742.7 L569.2,745.2 L569.8,747.6 L570.4,750.1 L571.0,752.5 L571.7,754.9 L572.3,757.4 L572.9,759.8 L573.6,762.3 L574.2,764.7 L574.9,767.1 L575.5,769.6 L576.2,772.0 L576.9,774.4 L577.5,776.8 L578.2,779.3 L578.9,781.7 L579.6,784.1 L580.3,786.5 L581.0,788.9 L581.7,791.3 L582.4,793.7 L583.1,796.1 L583.9,798.6 L584.6,801.0 L585.3,803.3 L586.1,805.7 L586.8,808.1 L587.6,810.5 L588.3,812.9 L589.1,815.3 L589.9,817.7 L590.7,820.1 L591.5,822.4 L592.3,824.8 L593.1,827.2 L593.9,829.5 L594.7,831.9 L595.6,834.2 L596.4,836.6 L597.2,838.9 L598.1,841.3 L599.0,843.6 L599.8,846.0 L600.7,848.3 L601.6,850.6 L602.5,853.0 L603.4,855.3 L604.3,857.6 L605.3,859.9 L606.2,862.2 L607.1,864.5 L608.1,866.8 L609.0,869.1 L610.0,871.4 L611.0,873.7 L612.0,876.0 L613.0,878.3 L614.0,880.6 L615.0,882.8 L616.0,885.1 L617.1,887.4 L618.1,889.6 L619.2,891.9 L620.3,894.1 L621.4,896.4 L622.5,898.6 L623.6,900.8 L624.7,903.1 L625.8,905.3 L626.9,907.5 L628.1,909.7 L629.3,911.9 L630.4,914.1 L631.6,916.3 L632.8,918.5 L634.0,920.7 L635.2,922.8 L636.5,925.0 L637.7,927.2 L639.0,929.3 L640.3,931.5 L641.5,933.6 L642.8,935.8 L644.1,937.9 L645.5,940.0 L646.8,942.2 L648.2,944.3 L649.5,946.4 L650.9,948.5 L652.3,950.6 L653.7,952.7 L655.1,954.8 L656.5,956.9 L658.0,958.9 L659.4,961.0 L660.9,963.0 L662.4,965.1 L663.9,967.1 L665.4,969.2 L666.9,971.2 L668.5,973.2 L670.0,975.2 L671.6,977.3 L673.2,979.3 L674.8,981.3 L676.4,983.2 L678.1,985.2 L679.7,987.2 L682.0,988.0 L682.0,1006.6 L684.7,1006.8 L686.7,1008.2 L688.7,1009.7 L690.6,1011.2 L692.6,1012.7 L694.6,1014.2 L696.5,1015.7 L698.5,1017.2 L700.4,1018.8 L702.4,1020.3 L704.3,1021.9 L706.2,1023.4 L708.1,1025.0 L710.1,1026.6 L712.0,1028.2 L713.9,1029.8 L715.8,1031.4 L717.8,1033.0 L719.7,1034.6 L721.6,1036.2 L723.5,1037.8 L725.5,1039.4 L727.4,1041.0 L729.3,1042.6 L731.3,1044.2 L733.2,1045.8 L735.2,1047.4 L737.1,1049.0 L739.1,1050.6 L741.1,1052.1 L743.0,1053.7 L745.0,1055.2 L747.0,1056.7 L749.0,1058.3 L751.0,1059.8 L753.0,1061.3 L755.0,1062.8 L757.0,1064.3 L759.0,1065.8 L761.0,1067.3 L763.1,1068.8 L765.1,1070.3 L767.1,1071.8 L769.1,1073.3 L771.1,1074.8 L773.1,1076.3 L775.1,1077.8 L777.1,1079.3 L779.1,1080.8 L781.1,1082.3 L783.1,1083.8 L785.1,1085.3 L787.1,1086.9 L789.1,1088.4 L791.1,1089.9 L793.0,1091.5 L795.0,1093.0 L796.9,1094.6 L798.9,1096.1 L800.8,1097.7 L802.8,1099.3 L804.7,1100.9 L806.6,1102.5 L808.5,1104.1 L810.4,1105.7 L812.4,1107.3 L814.3,1108.9 L816.2,1110.5 L818.1,1112.1 L820.0,1113.8 L821.9,1115.4 L823.8,1117.0 L825.7,1118.7 L827.6,1120.3 L829.4,1121.9 L831.3,1123.6 L833.2,1125.2 L835.1,1126.9 L837.0,1128.5 L838.9,1130.2 L840.8,1131.9 L842.7,1133.5 L844.6,1135.2 L846.5,1136.8 L848.3,1138.5 L850.2,1140.2 L852.1,1141.8 L854.0,1143.5 L855.9,1145.1 L857.8,1146.8 L859.7,1148.4 L861.7,1150.1 L863.6,1151.7 L865.5,1153.4 L867.4,1155.0 L869.3,1156.6 L871.3,1158.2 L873.2,1159.9 L875.1,1161.5 L877.1,1163.1 L879.0,1164.7 L881.0,1166.2 L882.9,1167.8 L884.9,1169.4 L886.8,1171.0 L888.8,1172.5 L890.8,1174.0 L892.8,1175.6 L894.8,1177.1 L896.8,1178.6 L898.8,1180.1 L900.8,1181.6 L902.8,1183.0 L904.9,1184.5 L906.9,1185.9 L908.9,1187.4 L911.0,1188.8 L913.1,1190.2 L915.1,1191.5 L917.2,1192.9 L919.3,1194.3 L921.4,1195.6 L923.5,1196.9 L925.7,1198.2 L927.8,1199.5 L929.9,1200.7 L932.1,1202.0 L934.3,1203.2 L936.4,1204.4 L938.6,1205.5 L940.8,1206.7 L943.0,1207.8 L945.3,1208.9 L947.5,1210.0 L949.7,1211.1 L952.0,1212.1 L954.3,1213.1 L956.6,1214.1 L958.9,1215.1 L961.2,1216.0 L963.5,1217.0 L965.9,1217.9 L968.2,1218.7 L970.6,1219.6 L972.9,1220.4 L975.3,1221.2 L977.7,1222.0 L980.1,1222.7 L982.5,1223.4 L985.0,1224.1 L987.4,1224.8 L989.8,1225.5 L992.3,1226.1 L994.7,1226.7 L997.2,1227.3 L999.7,1227.9 L1002.2,1228.4 L1004.6,1228.9 L1007.1,1229.5 L1009.6,1229.9 L1012.1,1230.4 L1014.6,1230.8 L1017.1,1231.3 L1019.6,1231.7 L1022.1,1232.0 L1024.6,1232.4 L1027.2,1232.7 L1029.7,1233.0 L1032.2,1233.3 L1034.7,1233.6 L1037.2,1233.9 L1039.7,1234.1 L1042.3,1234.3 L1044.8,1234.5 L1047.3,1234.7 L1049.8,1234.9 L1052.3,1235.0 L1054.8,1235.2 L1057.3,1235.3 L1059.8,1235.4 L1062.3,1235.5 L1064.9,1235.5 L1067.4,1235.6 L1069.9,1235.6 L1072.4,1235.6 L1074.9,1235.6 L1077.4,1235.6 L1079.9,1235.6 L1082.4,1235.5 L1084.8,1235.4 L1087.3,1235.4 L1089.8,1235.3 L1092.3,1235.2 L1094.8,1235.0 L1097.3,1234.9 L1099.8,1234.8 L1102.3,1234.6 L1104.8,1234.4 L1107.3,1234.2 L1109.7,1234.0 L1112.2,1233.8 L1114.7,1233.6 L1117.2,1233.4 L1119.7,1233.1 L1122.1,1232.9 L1124.6,1232.6 L1127.1,1232.3 L1129.6,1232.1 L1132.1,1231.8 L1134.5,1231.5 L1137.0,1231.1 L1139.5,1230.8 L1142.0,1230.5 L1144.4,1230.2 L1146.9,1229.8 L1149.4,1229.4 L1151.9,1229.1 L1154.3,1228.7 L1156.8,1228.3 L1159.3,1228.0 L1161.7,1227.6 L1164.2,1227.2 L1166.7,1226.8 L1169.1,1226.3 L1171.6,1225.9 L1174.1,1225.5 L1176.6,1225.1 L1179.0,1224.7 L1181.5,1224.2 L1184.0,1223.8 L1186.4,1223.3 L1188.9,1222.9 L1191.4,1222.4 L1193.8,1222.0 L1196.3,1221.5 L1198.8,1221.1 L1201.2,1220.6 L1203.7,1220.1 L1206.2,1219.7 L1208.6,1219.2 L1211.1,1218.7 L1213.6,1218.3 L1216.0,1217.8 L1218.5,1217.3 L1221.0,1216.9 L1223.4,1216.4 L1225.9,1215.9 L1228.4,1215.4 L1230.8,1215.0 L1233.3,1214.5 L1235.8,1214.0 L1238.3,1213.5 L1240.7,1213.1 L1243.2,1212.6 L1245.7,1212.1 L1248.1,1211.7 L1250.6,1211.2 L1253.1,1210.7 L1255.5,1210.2 L1258.0,1209.8 L1260.5,1209.3 L1263.0,1208.8 L1265.4,1208.4 L1267.9,1207.9 L1270.4,1207.5 L1272.8,1207.0 L1275.3,1206.5 L1277.8,1206.1 L1280.3,1205.6 L1282.7,1205.2 L1285.2,1204.7 L1287.7,1204.3 L1290.2,1203.8 L1292.6,1203.4 L1295.1,1202.9 L1297.6,1202.5 L1300.1,1202.0 L1302.5,1201.6 L1305.0,1201.1 L1307.5,1200.7 L1310.0,1200.3 L1312.4,1199.8 L1314.9,1199.4 L1317.4,1199.0 L1319.9,1198.6 L1322.3,1198.1 L1324.8,1197.7 L1327.3,1197.3 L1329.8,1196.9 L1332.3,1196.5 L1334.7,1196.1 L1337.2,1195.7 L1339.7,1195.3 L1342.2,1194.9 L1344.7,1194.5 L1347.1,1194.1 L1349.6,1193.7 L1352.1,1193.4 L1354.6,1193.0 L1357.1,1192.6 L1359.6,1192.3 L1362.0,1191.9 L1364.5,1191.5 L1367.0,1191.2 L1369.5,1190.8 L1372.0,1190.5 L1374.5,1190.1 L1376.9,1189.8 L1379.4,1189.5 L1381.9,1189.1 L1384.4,1188.8 L1386.9,1188.5 L1389.4,1188.2 L1391.9,1187.9 L1394.3,1187.6 L1396.8,1187.3 L1399.3,1187.0 L1401.8,1186.7 L1404.3,1186.4 L1406.8,1186.1 L1409.3,1185.9 L1411.8,1185.6 L1414.3,1185.3 L1416.8,1185.1 L1419.2,1184.8 L1421.7,1184.6 L1424.2,1184.4 L1426.7,1184.1 L1429.2,1183.9 L1431.7,1183.7 L1434.2,1183.5 L1436.7,1183.3 L1439.2,1183.1 L1441.7,1182.9 L1444.2,1182.7 L1446.7,1182.5 L1449.2,1182.3 L1451.7,1182.1 L1454.2,1181.9 L1456.7,1181.8 L1459.2,1181.6 L1461.7,1181.5 L1464.2,1181.3 L1466.7,1181.2 L1469.2,1181.0 L1471.7,1180.9 L1474.2,1180.7 L1476.7,1180.6 L1479.2,1180.5 L1481.7,1180.3 L1484.2,1180.2 L1486.7,1180.1 L1489.2,1180.0 L1491.7,1179.9 L1494.2,1179.8 L1496.7,1179.7 L1499.2,1179.6 L1501.7,1179.5 L1503.0,1179.8 L1504.3,1179.1 L1505.6,1179.7 L1506.9,1179.3 L1508.2,1179.2 L1509.5,1179.8 L1510.8,1179.3 L1512.1,1179.2 L1513.4,1179.4 L1514.7,1179.5 L1516.0,1179.1 L1517.3,1179.2 L1518.6,1178.7 L1519.9,1178.9 L1521.2,1178.8 L1522.5,1178.5 L1523.8,1178.4 L1525.1,1178.4 L1526.4,1178.8 L1527.7,1178.8 L1529.0,1178.7 L1530.3,1178.8 L1531.6,1178.3 L1532.9,1178.7 L1534.2,1178.8 L1535.5,1178.9 L1536.8,1178.4 L1538.1,1178.5 L1539.4,1178.0 L1540.7,1178.4 L1542.0,1177.9 L1543.3,1178.1 L1544.6,1178.9 L1545.9,1177.8 L1547.2,1178.8 L1548.5,1178.6 L1549.8,1178.4 L1551.1,1178.6 L1552.4,1178.6 L1553.7,1178.8 L1555.0,1178.4 L1556.3,1178.2 L1557.6,1178.2 L1558.9,1178.1 L1560.2,1178.4 L1561.5,1178.2 L1562.8,1178.7 L1564.1,1177.8 L1565.4,1178.0 L1566.7,1178.1 L1568.0,1177.7 L1569.3,1179.0 L1570.6,1177.7 L1571.9,1178.3 L1573.2,1178.2 L1574.5,1178.9 L1575.8,1177.7 L1577.1,1178.8 L1578.4,1178.1 L1579.7,1178.3 L1581.0,1178.2 L1582.3,1178.6 L1583.6,1178.0 L1584.9,1178.4 L1586.2,1178.5 L1587.5,1179.1 L1588.8,1177.7 L1590.1,1179.0 L1591.4,1178.8 L1592.7,1178.3 L1594.0,1178.6 L1595.3,1178.3 L1596.6,1179.1 L1597.9,1178.6 L1599.2,1178.4 L1600.5,1178.5 L1601.8,1178.5 L1603.1,1178.5 L1604.4,1178.3 L1605.7,1179.4 L1607.0,1177.9 L1608.3,1177.8 L1609.6,1178.6 L1610.9,1178.6 L1612.2,1178.8 L1613.5,1178.6 L1614.8,1178.6 L1616.1,1178.8 L1617.4,1179.1 L1618.7,1178.6 L1620.0,1178.6 L1621.3,1179.6 L1622.6,1179.0 L1623.9,1178.4 L1625.2,1179.7 L1626.5,1179.2 L1627.8,1178.7 L1629.1,1178.4 L1630.4,1179.1 L1631.7,1178.6 L1633.0,1178.5 L1634.3,1178.5 L1635.6,1178.8 L1636.9,1179.5 L1638.2,1178.9 L1639.5,1178.5 L1640.8,1179.4 L1642.1,1179.2 L1643.4,1179.5 L1644.7,1179.7 L1646.0,1179.1 L1647.3,1179.2 L1648.6,1179.3 L1649.9,1178.8 L1651.2,1179.6 L1652.5,1180.0 L1653.8,1179.5 L1655.1,1179.3 L1656.4,1179.3 L1657.7,1179.1 L1659.0,1179.1 L1660.3,1179.3 L1661.6,1179.1 L1662.9,1179.4 L1664.2,1178.9 L1665.5,1179.8 L1666.8,1179.7 L1668.1,1179.1 L1669.4,1178.6 L1670.7,1179.7 L1672.0,1180.3 L1673.3,1179.4 L1674.6,1179.6 L1675.9,1179.6 L1677.2,1180.2 L1678.5,1179.4 L1679.8,1180.4 L1681.1,1179.8 L1682.4,1180.5 L1683.7,1180.0 L1685.0,1179.9 L1686.3,1179.3 L1687.6,1179.7 L1688.9,1180.0 L1690.2,1180.5 L1691.5,1180.3 L1692.8,1179.8 L1694.1,1180.5 L1695.4,1180.8 L1696.7,1180.2 L1698.0,1180.1 L1699.3,1180.1 L1700.6,1180.8 L1701.9,1180.7 L1703.2,1179.9 L1704.5,1180.7 L1705.8,1180.2 L1707.1,1180.1 L1708.4,1181.3 L1709.7,1181.1 L1711.0,1180.2 L1712.3,1180.7 L1713.6,1181.0 L1714.9,1180.3 L1716.2,1180.6 L1717.5,1181.1 L1718.8,1179.7 L1720.1,1181.0 L1721.4,1181.3 L1722.7,1181.2 L1724.0,1180.1 L1725.3,1181.1 L1726.6,1180.4 L1727.9,1181.3 L1729.2,1181.4 L1730.5,1181.1 L1731.8,1180.5 L1733.1,1180.7 L1734.4,1181.6 L1735.7,1180.5 L1737.0,1181.5 L1738.3,1181.5 L1739.6,1181.0 L1740.9,1182.7 L1742.2,1181.3 L1743.5,1182.7 L1744.8,1179.9 L1746.1,1179.8 L1747.4,1182.0 L1748.7,1181.8 L1750.0,1181.1 L1751.3,1181.3 L1752.6,1180.0 L1753.9,1181.0 L1755.2,1180.7 L1756.5,1181.3 L1757.8,1182.1 L1759.1,1181.5 L1760.4,1181.8 L1761.7,1181.0 L1763.0,1181.2 L1764.3,1181.6 L1765.6,1181.3 L1766.9,1182.5 L1768.2,1180.9 L1769.5,1183.0 L1770.8,1180.9 L1772.1,1182.4 L1773.4,1181.0 L1774.7,1182.9 L1776.0,1181.8 L1777.3,1182.0 L1778.6,1182.3 L1779.9,1181.2 L1781.2,1180.9 L1782.5,1180.1 L1783.8,1182.7 L1785.1,1181.2 L1786.4,1181.3 L1787.7,1181.7 L1789.0,1183.4 L1790.3,1180.3 L1791.6,1182.0 L1792.9,1181.4 L1794.2,1182.2 L1795.5,1180.3 L1796.8,1181.4 L1798.1,1182.5 L1799.4,1183.1 L1800.7,1183.2 L1802.0,1181.0 L1803.3,1181.8 L1804.6,1181.7 L1805.9,1180.6 L1807.2,1180.5 L1808.5,1182.5 L1809.8,1182.0 L1811.1,1181.6 L1812.4,1182.9 L1813.7,1180.8 L1815.0,1182.2 L1816.3,1181.8 L1817.6,1181.7 L1818.9,1182.2 L1820.2,1181.9 L1821.5,1182.0 L1822.8,1182.0 L1824.1,1183.6 L1825.4,1181.4 L1826.7,1182.7 L1828.0,1182.2 L1829.3,1181.3 L1830.6,1182.4 L1831.9,1180.8 L1833.2,1182.8 L1834.5,1180.8 L1835.8,1181.1 L1837.1,1181.9 L1838.4,1182.4 L1839.7,1182.4 L1841.0,1182.4 L1842.3,1181.2 L1843.6,1180.4 L1844.9,1182.0 L1846.2,1181.7 L1847.5,1180.3 L1848.8,1182.4 L1850.1,1181.5 L1851.4,1180.2 L1852.7,1181.7 L1854.0,1179.8 L1855.3,1180.2 L1856.6,1181.6 L1857.9,1179.4 L1859.2,1181.1 L1860.5,1179.5 L1861.8,1181.8 L1863.1,1180.1 L1864.4,1181.1 L1865.7,1179.2 L1867.0,1180.4 L1868.3,1181.9 L1869.6,1181.3 L1870.9,1178.6 L1872.2,1181.7 L1873.5,1181.7 L1874.8,1180.1 L1876.1,1182.2 L1877.4,1179.2 L1878.0,1180.4 M1297.5,1201.0 L1297.5,1192.5" stroke="#0000ff"/>
<path d="M415.2,139.0 L415.6,141.5 L415.9,144.0 L416.2,146.5 L416.5,149.0 L416.8,151.5 L417.1,154.0 L417.4,156.5 L417.7,159.1 L418.0,161.6 L418.3,164.1 L418.6,166.6 L418.9,169.1 L419.2,171.6 L419.6,174.1 L419.9,176.6 L420.2,179.1 L420.5,181.6 L420.8,184.1 L421.2,186.6 L421.5,189.1 L421.8,191.6 L422.2,194.2 L422.5,196.7 L422.8,199.2 L423.2,201.7 L423.5,204.2 L423.9,206.7 L424.2,209.2 L424.5,211.7 L424.9,214.2 L425.2,216.7 L425.6,219.2 L426.0,221.7 L426.3,224.2 L426.7,226.7 L427.0,229.2 L427.4,231.7 L427.8,234.2 L428.1,236.7 L428.5,239.2 L428.9,241.7 L429.3,244.2 L429.6,246.7 L430.0,249.2 L430.4,251.7 L430.8,254.1 L431.2,256.6 L431.5,259.1 L431.9,261.6 L432.3,264.1 L432.7,266.6 L433.1,269.1 L433.5,271.6 L433.9,274.1 L434.3,276.6 L434.7,279.1 L435.1,281.6 L435.5,284.1 L435.9,286.6 L436.4,289.1 L436.8,291.5 L437.2,294.0 L437.6,296.5 L438.0,299.0 L438.4,301.5 L438.9,304.0 L439.3,306.5 L439.7,309.0 L440.1,311.5 L440.6,313.9 L441.0,316.4 L441.5,318.9 L441.9,321.4 L442.3,323.9 L442.8,326.4 L443.2,328.9 L443.7,331.3 L444.1,333.8 L444.6,336.3 L445.0,338.8 L445.5,341.3 L445.9,343.8 L446.4,346.2 L446.8,348.7 L447.3,351.2 L447.8,353.7 L448.2,356.2 L448.7,358.7 L449.2,361.1 L449.6,363.6 L450.1,366.1 L450.6,368.6 L451.1,371.1 L451.5,373.5 L452.0,376.0 L452.5,378.5 L453.0,381.0 L453.5,383.5 L454.0,385.9 L454.4,388.4 L454.9,390.9 L455.4,393.4 L455.9,395.8 L456.4,398.3 L456.9,400.8 L457.4,403.3 L457.9,405.7 L458.4,408.2 L458.9,410.7 L459.4,413.2 L460.0,415.6 L460.5,418.1 L461.0,420.6 L461.5,423.1 L462.0,425.5 L462.5,428.0 L463.1,430.5 L463.3,433.0 L465.0,134.7 L465.7,137.1 L466.1,139.6 L466.4,142.1 L466.7,144.6 L467.1,147.1 L467.4,149.6 L467.8,152.1 L468.2,154.5 L468.6,157.0 L469.0,159.5 L469.4,162.0 L469.8,164.5 L470.3,166.9 L470.7,169.4 L471.1,171.9 L471.6,174.3 L472.1,176.8 L472.5,179.3 L473.0,181.7 L473.5,184.2 L474.0,186.6 L474.5,189.1 L475.0,191.6 L475.5,194.0 L476.0,196.5 L476.6,198.9 L477.1,201.4 L477.7,203.8 L478.2,206.3 L478.7,208.7 L479.3,211.2 L479.9,213.6 L480.4,216.0 L481.0,218.5 L481.6,220.9 L482.1,223.4 L482.7,225.8 L483.3,228.2 L483.9,230.7 L484.5,233.1 L485.0,235.6 L485.6,238.0 L486.2,240.4 L486.8,242.9 L487.4,245.3 L488.0,247.7 L488.6,250.2 L489.2,252.6 L489.8,255.1 L490.4,257.5 L491.0,259.9 L491.6,262.4 L492.2,264.8 L492.8,267.2 L493.4,269.7 L494.0,272.1 L494.5,274.6 L495.1,277.0 L495.7,279.4 L496.3,281.9 L496.9,284.3 L497.5,286.8 L498.0,289.2 L498.6,291.6 L499.2,294.1 L499.7,296.5 L500.3,299.0 L500.9,301.4 L501.4,303.9 L502.0,306.3 L502.5,308.8 L503.0,311.2 L503.6,313.7 L504.1,316.1 L504.6,318.6 L505.2,321.0 L505.7,323.5 L506.2,325.9 L506.7,328.4 L507.3,330.8 L507.8,333.3 L508.3,335.8 L508.8,338.2 L509.3,340.7 L509.8,343.1 L510.3,345.6 L510.8,348.1 L511.3,350.5 L511.8,353.0 L512.3,355.4 L512.8,357.9 L513.2,360.4 L513.7,362.8 L514.2,365.3 L514.7,367.8 L515.2,370.2 L515.6,372.7 L516.1,375.2 L516.6,377.6 L517.1,380.1 L517.5,382.6 L518.0,385.0 L518.5,387.5 L518.9,390.0 L519.4,392.4 L519.8,394.9 L520.3,397.4 L520.8,399.8 L521.2,402.3 L521.7,404.8 L522.1,407.3 L522.6,409.7 L523.0,412.2 L523.5,414.7 L523.9,417.1 L524.4,419.6 L524.8,422.1 L525.2,424.6 L525.7,427.0 L526.1,429.5 L526.6,432.0 L527.0,434.4 L527.5,436.9 L527.9,439.4 L528.3,441.9 L528.8,444.3 L529.2,446.8 L529.7,449.3 L530.1,451.8 L530.5,454.2 L531.0,456.7 L531.4,459.2 L531.9,461.7 L532.3,464.1 L532.7,466.6 L533.2,469.1 L533.6,471.5 L534.1,474.0 L534.5,476.5 L534.9,479.0 L535.4,481.4 L535.8,483.9 L536.3,486.4 L536.7,488.9 L537.1,491.3 L537.6,493.8 L538.0,496.3 L538.5,498.7 L538.9,501.2 L539.4,503.7 L539.8,506.1 L540.3,508.6 L540.7,511.1 L541.2,513.6 L541.6,516.0 L542.1,518.5 L542.5,521.0 L543.0,523.4 L543.4,525.9 L543.9,528.4 L544.4,530.8 L544.8,533.3 L545.3,535.8 L545.8,538.2 L546.2,540.7 L546.7,543.2 L547.2,545.6 L547.6,548.1 L548.1,550.5 L548.6,553.0 L549.1,555.5 L549.5,557.9 L550.0,560.4 L550.5,562.8 L551.0,565.3 L551.5,567.8 L552.0,570.2 L552.4,572.7 L552.9,575.1 L553.4,577.6 L553.9,580.1 L554.4,582.5 L554.9,585.0 L555.4,587.4 L555.9,589.9 L556.4,592.3 L556.9,594.8 L557.4,597.2 L557.9,599.7 L558.5,602.1 L559.0,604.6 L559.5,607.1 L560.0,609.5 L560.5,612.0 L561.0,614.4 L561.6,616.9 L562.1,619.3 L562.6,621.8 L563.2,624.2 L563.7,626.6 L564.2,629.1 L564.8,631.5 L565.3,634.0 L565.8,636.4 L566.4,638.9 L566.9,641.3 L567.5,643.8 L568.0,646.2 L568.6,648.7 L569.1,651.1 L569.7,653.5 L570.3,656.0 L570.8,658.4 L571.4,660.9 L572.0,663.3 L572.5,665.7 L573.1,668.2 L573.7,670.6 L574.3,673.1 L574.8,675.5 L575.4,677.9 L576.0,680.4 L576.6,682.8 L577.2,685.2 L577.8,687.7 L578.4,690.1 L579.0,692.5 L579.6,695.0 L580.2,697.4 L580.8,699.8 L581.4,702.3 L582.0,704.7 L582.6,707.1 L583.2,709.6 L583.8,712.0 L584.5,714.4 L585.1,716.9 L585.7,719.3 L586.4,721.7 L587.0,724.1 L587.6,726.6 L588.3,729.0 L588.9,731.4 L589.5,733.8 L590.2,736.3 L590.8,738.7 L591.5,741.1 L592.2,743.5 L592.8,746.0 L593.5,748.4 L594.1,750.8 L594.8,753.2 L595.5,755.6 L596.2,758.1 L596.8,760.5 L597.5,762.9 L598.2,765.3 L598.9,767.7 L599.6,770.2 L600.3,772.6 L601.0,775.0 L601.7,777.4 L602.4,779.8 L603.1,782.2 L603.8,784.6 L604.5,787.1 L605.2,789.5 L605.9,791.9 L606.6,794.3 L607.4,796.7 L608.1,799.1 L608.8,801.5 L609.6,803.9 L610.3,806.3 L611.0,808.8 L611.8,811.2 L612.5,813.6 L613.3,816.0 L614.0,818.4 L614.8,820.8 L615.6,823.2 L616.3,825.6 L617.1,828.0 L617.9,830.4 L618.7,832.8 L619.4,835.2 L620.2,837.6 L621.0,840.0 L621.8,842.4 L622.6,844.8 L623.4,847.2 L624.2,849.6 L625.0,852.0 L625.9,854.3 L626.7,856.7 L627.5,859.1 L628.4,861.5 L629.2,863.8 L630.1,866.2 L631.0,868.6 L631.8,870.9 L632.7,873.3 L633.6,875.7 L634.5,878.0 L635.4,880.3 L636.3,882.7 L637.2,885.0 L638.2,887.4 L639.1,889.7 L640.1,892.0 L641.0,894.3 L642.0,896.6 L643.0,898.9 L644.0,901.2 L645.0,903.5 L646.0,905.8 L647.0,908.1 L648.0,910.3 L649.1,912.6 L650.1,914.9 L651.2,917.1 L652.3,919.3 L653.4,921.6 L654.5,923.8 L655.6,926.0 L656.7,928.2 L657.9,930.4 L659.1,932.6 L660.2,934.8 L661.4,937.0 L662.6,939.2 L663.8,941.3 L665.1,943.5 L666.3,945.6 L667.6,947.7 L668.9,949.8 L670.2,951.9 L671.5,954.0 L672.8,956.1 L674.2,958.2 L675.6,960.2 L677.0,962.2 L678.4,964.2 L679.9,966.3 L681.3,968.2 L684.3,969.0 L684.3,980.0 L685.0,981.9 L686.3,984.3 L687.6,986.7 L688.9,988.9 L690.3,991.2 L691.7,993.3 L693.1,995.5 L694.6,997.6 L696.2,999.6 L697.7,1001.6 L699.3,1003.5 L700.9,1005.4 L702.6,1007.3 L704.3,1009.1 L706.0,1010.9 L707.8,1012.6 L709.6,1014.3 L711.4,1016.0 L713.2,1017.6 L715.1,1019.2 L717.0,1020.8 L718.9,1022.3 L720.9,1023.8 L722.9,1025.2 L724.9,1026.6 L726.9,1028.0 L728.9,1029.4 L731.0,1030.7 L733.1,1032.0 L735.2,1033.3 L737.3,1034.5 L739.4,1035.8 L741.6,1037.0 L743.7,1038.2 L745.9,1039.3 L748.1,1040.5 L750.3,1041.6 L752.6,1042.7 L754.8,1043.8 L757.0,1044.9 L759.3,1045.9 L761.6,1047.0 L763.8,1048.0 L766.1,1049.0 L768.4,1050.1 L770.7,1051.1 L773.0,1052.1 L775.3,1053.0 L777.6,1054.0 L779.9,1055.0 L782.2,1056.0 L784.6,1056.9 L786.9,1057.9 L789.2,1058.9 L791.5,1059.8 L793.8,1060.8 L796.2,1061.7 L798.5,1062.7 L800.8,1063.6 L803.2,1064.6 L805.5,1065.6 L807.8,1066.5 L810.1,1067.5 L812.4,1068.5 L814.7,1069.5 L817.1,1070.5 L819.4,1071.5 L821.7,1072.5 L824.0,1073.5 L826.2,1074.5 L828.5,1075.6 L830.8,1076.6 L833.1,1077.7 L835.3,1078.8 L837.6,1079.9 L839.8,1081.0 L842.1,1082.1 L844.3,1083.2 L846.5,1084.3 L848.7,1085.5 L850.9,1086.6 L853.2,1087.8 L855.4,1089.0 L857.5,1090.2 L859.7,1091.4 L861.9,1092.6 L864.1,1093.8 L866.3,1095.0 L868.5,1096.2 L870.6,1097.5 L872.8,1098.7 L874.9,1100.0 L877.1,1101.2 L879.2,1102.5 L881.4,1103.8 L883.5,1105.1 L885.7,1106.3 L887.8,1107.6 L889.9,1108.9 L892.1,1110.2 L894.2,1111.5 L896.3,1112.9 L898.5,1114.2 L900.6,1115.5 L902.7,1116.8 L904.8,1118.1 L906.9,1119.5 L909.0,1120.8 L911.1,1122.2 L913.2,1123.5 L915.4,1124.8 L917.5,1126.2 L919.6,1127.5 L921.7,1128.9 L923.8,1130.2 L925.9,1131.6 L928.0,1132.9 L930.1,1134.3 L932.2,1135.6 L934.3,1137.0 L936.4,1138.4 L938.5,1139.7 L940.6,1141.1 L942.7,1142.4 L944.8,1143.8 L946.9,1145.2 L949.0,1146.5 L951.1,1147.9 L953.1,1149.3 L955.2,1150.6 L957.3,1152.0 L959.4,1153.4 L961.5,1154.8 L963.6,1156.1 L965.7,1157.5 L967.8,1158.9 L969.9,1160.3 L972.0,1161.7 L974.1,1163.0 L976.2,1164.4 L978.3,1165.8 L980.4,1167.2 L982.5,1168.6 L984.6,1169.9 L986.7,1171.3 L988.8,1172.7 L990.9,1174.1 L993.0,1175.5 L995.1,1176.8 L997.3,1178.2 L999.4,1179.6 L1001.5,1180.9 L1003.6,1182.3 L1005.7,1183.7 L1007.8,1185.0 L1010.0,1186.4 L1012.1,1187.7 L1014.2,1189.1 L1016.3,1190.4 L1018.5,1191.8 L1020.6,1193.1 L1022.7,1194.4 L1024.9,1195.7 L1027.0,1197.0 L1029.2,1198.3 L1031.3,1199.6 L1033.5,1200.9 L1035.7,1202.2 L1037.8,1203.5 L1040.0,1204.7 L1042.2,1206.0 L1044.3,1207.2 L1046.5,1208.4 L1048.7,1209.7 L1050.9,1210.9 L1053.1,1212.1 L1055.3,1213.2 L1057.5,1214.4 L1059.7,1215.6 L1062.0,1216.7 L1064.2,1217.9 L1066.4,1219.0 L1068.6,1220.1 L1070.9,1221.2 L1073.1,1222.3 L1075.4,1223.3 L1077.7,1224.4 L1079.9,1225.4 L1082.2,1226.4 L1084.5,1227.4 L1086.8,1228.4 L1089.1,1229.4 L1091.4,1230.3 L1093.7,1231.3 L1096.0,1232.2 L1098.3,1233.1 L1100.7,1234.0 L1103.0,1234.8 L1105.3,1235.7 L1107.7,1236.5 L1110.0,1237.3 L1112.4,1238.1 L1114.8,1238.9 L1117.2,1239.6 L1119.5,1240.4 L1121.9,1241.1 L1124.3,1241.8 L1126.7,1242.5 L1129.1,1243.1 L1131.6,1243.8 L1134.0,1244.4 L1136.4,1245.1 L1138.8,1245.7 L1141.3,1246.2 L1143.7,1246.8 L1146.1,1247.3 L1148.6,1247.9 L1151.0,1248.4 L1153.5,1248.9 L1155.9,1249.4 L1158.4,1249.8 L1160.9,1250.3 L1163.3,1250.7 L1165.8,1251.1 L1168.3,1251.5 L1170.8,1251.9 L1173.3,1252.3 L1175.7,1252.6 L1178.2,1253.0 L1180.7,1253.3 L1183.2,1253.6 L1185.7,1253.9 L1188.2,1254.1 L1190.7,1254.4 L1193.2,1254.6 L1195.7,1254.8 L1198.2,1255.0 L1200.7,1255.2 L1203.2,1255.4 L1205.7,1255.5 L1208.2,1255.7 L1210.8,1255.8 L1213.3,1255.9 L1215.8,1256.0 L1218.3,1256.1 L1220.8,1256.1 L1223.3,1256.2 L1225.8,1256.2 L1228.3,1256.2 L1230.9,1256.2 L1233.4,1256.2 L1235.9,1256.2 L1238.4,1256.1 L1240.9,1256.1 L1243.4,1256.0 L1245.9,1255.9 L1248.4,1255.8 L1250.9,1255.7 L1253.4,1255.5 L1255.9,1255.4 L1258.4,1255.2 L1260.9,1255.0 L1263.4,1254.8 L1265.9,1254.6 L1268.4,1254.4 L1270.9,1254.1 L1273.4,1253.9 L1275.9,1253.6 L1278.4,1253.3 L1280.9,1253.1 L1283.3,1252.8 L1285.8,1252.5 L1288.3,1252.1 L1290.8,1251.8 L1293.3,1251.5 L1295.8,1251.1 L1298.2,1250.8 L1300.7,1250.4 L1303.2,1250.1 L1305.7,1249.7 L1308.1,1249.3 L1310.6,1248.9 L1313.1,1248.5 L1315.5,1248.2 L1318.0,1247.8 L1320.5,1247.4 L1323.0,1247.0 L1325.4,1246.6 L1327.9,1246.1 L1330.4,1245.7 L1332.8,1245.3 L1335.3,1244.9 L1337.8,1244.5 L1340.2,1244.1 L1342.7,1243.7 L1345.2,1243.3 L1347.7,1242.9 L1350.1,1242.5 L1352.6,1242.1 L1355.1,1241.7 L1357.5,1241.3 L1360.0,1240.9 L1362.5,1240.6 L1365.0,1240.2 L1367.4,1239.8 L1369.9,1239.4 L1372.4,1239.1 L1374.9,1238.7 L1377.3,1238.4 L1379.8,1238.0 L1382.3,1237.7 L1384.8,1237.3 L1387.3,1237.0 L1389.7,1236.6 L1392.2,1236.3 L1394.7,1235.9 L1397.2,1235.6 L1399.7,1235.3 L1402.1,1234.9 L1404.6,1234.6 L1407.1,1234.3 L1409.6,1234.0 L1412.1,1233.7 L1414.6,1233.3 L1417.0,1233.0 L1419.5,1232.7 L1422.0,1232.4 L1424.5,1232.1 L1427.0,1231.8 L1429.5,1231.5 L1431.9,1231.2 L1434.4,1230.9 L1436.9,1230.6 L1439.4,1230.3 L1441.9,1230.0 L1444.4,1229.7 L1446.9,1229.4 L1449.3,1229.1 L1451.8,1228.8 L1454.3,1228.5 L1456.8,1228.3 L1459.3,1228.0 L1461.8,1227.7 L1464.3,1227.4 L1466.8,1227.1 L1469.2,1226.8 L1471.7,1226.5 L1474.2,1226.3 L1476.7,1226.0 L1479.2,1225.7 L1481.7,1225.4 L1484.2,1225.1 L1486.7,1224.8 L1489.2,1224.6 L1491.6,1224.3 L1494.1,1224.0 L1496.6,1223.7 L1499.1,1223.4 L1501.6,1223.2 L1502.9,1223.2 L1504.2,1222.7 L1505.5,1222.9 L1506.8,1222.9 L1508.1,1222.6 L1509.4,1222.9 L1510.7,1221.8 L1512.0,1222.0 L1513.3,1221.6 L1514.6,1221.4 L1515.9,1221.5 L1517.2,1221.5 L1518.5,1221.4 L1519.8,1221.3 L1521.1,1221.9 L1522.4,1221.2 L1523.7,1220.0 L1525.0,1220.6 L1526.3,1220.1 L1527.6,1220.0 L1528.9,1220.6 L1530.2,1219.9 L1531.5,1219.0 L1532.8,1219.8 L1534.1,1219.4 L1535.4,1218.9 L1536.7,1218.9 L1538.0,1218.9 L1539.3,1219.0 L1540.6,1218.7 L1541.9,1218.7 L1543.2,1219.3 L1544.5,1218.1 L1545.8,1217.9 L1547.1,1218.0 L1548.4,1218.4 L1549.7,1217.5 L1551.0,1218.3 L1552.3,1217.0 L1553.6,1217.0 L1554.9,1217.2 L1556.2,1216.8 L1557.5,1216.7 L1558.8,1217.0 L1560.1,1217.0 L1561.4,1216.6 L1562.7,1216.3 L1564.0,1216.9 L1565.3,1216.3 L1566.6,1215.9 L1567.9,1216.4 L1569.2,1215.3 L1570.5,1215.7 L1571.8,1215.7 L1573.1,1215.3 L1574.4,1214.9 L1575.7,1215.2 L1577.0,1214.6 L1578.3,1214.5 L1579.6,1214.1 L1580.9,1215.1 L1582.2,1214.1 L1583.5,1214.7 L1584.8,1214.2 L1586.1,1213.8 L1587.4,1214.1 L1588.7,1213.8 L1590.0,1213.6 L1591.3,1212.7 L1592.6,1213.3 L1593.9,1213.5 L1595.2,1213.2 L1596.5,1213.3 L1597.8,1213.4 L1599.1,1212.7 L1600.4,1213.4 L1601.7,1211.5 L1603.0,1212.0 L1604.3,1210.9 L1605.6,1212.3 L1606.9,1211.8 L1608.2,1212.5 L1609.5,1211.3 L1610.8,1210.3 L1612.1,1211.8 L1613.4,1210.3 L1614.7,1210.2 L1616.0,1210.7 L1617.3,1211.0 L1618.6,1210.2 L1619.9,1210.5 L1621.2,1209.2 L1622.5,1211.0 L1623.8,1209.9 L1625.1,1209.9 L1626.4,1210.0 L1627.7,1209.6 L1629.0,1209.5 L1630.3,1208.8 L1631.6,1209.1 L1632.9,1209.3 L1634.2,1209.5 L1635.5,1208.7 L1636.8,1208.7 L1638.1,1208.7 L1639.4,1208.7 L1640.7,1208.3 L1642.0,1207.9 L1643.3,1207.6 L1644.6,1208.5 L1645.9,1207.9 L1647.2,1207.6 L1648.5,1208.8 L1649.8,1207.8 L1651.1,1207.7 L1652.4,1207.1 L1653.7,1206.2 L1655.0,1207.5 L1656.3,1206.6 L1657.6,1206.5 L1658.9,1207.0 L1660.2,1206.9 L1661.5,1206.2 L1662.8,1206.0 L1664.1,1207.2 L1665.4,1206.1 L1666.7,1204.9 L1668.0,1205.9 L1669.3,1205.4 L1670.6,1205.2 L1671.9,1205.5 L1673.2,1205.1 L1674.5,1206.2 L1675.8,1204.8 L1677.1,1204.7 L1678.4,1205.2 L1679.7,1203.8 L1681.0,1204.9 L1682.3,1203.9 L1683.6,1204.7 L1684.9,1203.1 L1686.2,1203.9 L1687.5,1202.3 L1688.8,1203.0 L1690.1,1203.2 L1691.4,1203.5 L1692.7,1204.5 L1694.0,1204.2 L1695.3,1201.7 L1696.6,1202.0 L1697.9,1203.4 L1699.2,1202.7 L1700.5,1201.1 L1701.8,1202.4 L1703.1,1201.0 L1704.4,1201.1 L1705.7,1200.6 L1707.0,1201.3 L1708.3,1203.2 L1709.6,1201.6 L1710.9,1201.1 L1712.2,1202.9 L1713.5,1200.5 L1714.8,1200.7 L1716.1,1200.4 L1717.4,1200.9 L1718.7,1200.1 L1720.0,1201.5 L1721.3,1199.9 L1722.6,1200.5 L1723.9,1200.1 L1725.2,1199.0 L1726.5,1198.8 L1727.8,1199.5 L1729.1,1197.4 L1730.4,1199.3 L1731.7,1199.2 L1733.0,1199.1 L1734.3,1198.8 L1735.6,1199.1 L1736.9,1198.3 L1738.2,1199.1 L1739.5,1196.8 L1740.8,1199.1 L1742.1,1197.3 L1743.4,1198.5 L1744.7,1197.4 L1746.0,1197.3 L1747.3,1196.8 L1748.6,1198.9 L1749.9,1196.3 L1751.2,1196.0 L1752.5,1197.4 L1753.8,1197.3 L1755.1,1196.9 L1756.4,1195.8 L1757.7,1196.0 L1759.0,1197.5 L1760.3,1195.3 L1761.6,1196.9 L1762.9,1196.9 L1764.2,1196.2 L1765.5,1194.6 L1766.8,1197.9 L1768.1,1195.8 L1769.4,1195.8 L1770.7,1195.0 L1772.0,1194.2 L1773.3,1194.9 L1774.6,1195.3 L1775.9,1194.0 L1777.2,1194.9 L1778.5,1196.0 L1779.8,1195.1 L1781.1,1194.3 L1782.4,1195.6 L1783.7,1195.3 L1785.0,1195.2 L1786.3,1193.0 L1787.6,1191.6 L1788.9,1194.7 L1790.2,1193.7 L1791.5,1193.0 L1792.8,1194.0 L1794.1,1192.7 L1795.4,1192.3 L1796.7,1195.3 L1798.0,1190.9 L1799.3,1193.8 L1800.6,1193.9 L1801.9,1194.8 L1803.2,1192.7 L1804.5,1192.9 L1805.8,1191.0 L1807.1,1192.1 L1808.4,1189.1 L1809.7,1191.0 L1811.0,1191.6 L1812.3,1191.4 L1813.6,1190.8 L1814.9,1192.9 L1816.2,1189.0 L1817.5,1191.3 L1818.8,1190.4 L1820.1,1190.9 L1821.4,1190.8 L1822.7,1193.4 L1824.0,1189.0 L1825.3,1192.3 L1826.6,1192.3 L1827.9,1190.0 L1829.2,1189.1 L1830.5,1188.1 L1831.8,1188.5 L1833.1,1192.7 L1834.4,1186.3 L1835.7,1190.1 L1837.0,1188.3 L1838.3,1192.1 L1839.6,1189.6 L1840.9,1186.9 L1842.2,1188.1 L1843.5,1189.0 L1844.8,1188.8 L1846.1,1187.0 L1847.4,1187.9 L1848.7,1187.5 L1850.0,1188.9 L1851.3,1188.5 L1852.6,1188.3 L1853.9,1186.9 L1855.2,1189.0 L1856.5,1186.7 L1857.8,1186.1 L1859.1,1186.6 L1860.4,1186.7 L1861.7,1186.6 L1863.0,1183.8 L1864.3,1189.2 L1865.6,1187.8 L1866.9,1188.9 L1868.2,1185.9 L1869.5,1187.7 L1870.8,1186.7 L1872.1,1186.3 L1873.4,1189.2 L1874.7,1184.9 L1876.0,1187.0 L1877.3,1182.9 L1878.0,1187.0" stroke="#008080"/>
<path d="M432.2,134.4 L432.9,136.8 L433.2,139.4 L433.5,141.9 L433.8,144.4 L434.1,146.9 L434.4,149.4 L434.7,151.9 L435.1,154.4 L435.4,156.9 L435.7,159.4 L436.0,161.9 L436.4,164.4 L436.7,167.0 L437.1,169.5 L437.4,172.0 L437.8,174.5 L438.1,177.0 L438.5,179.5 L438.9,182.0 L439.2,184.5 L439.6,187.0 L440.0,189.5 L440.4,192.0 L440.8,194.5 L441.1,197.0 L441.5,199.5 L441.9,202.0 L442.3,204.4 L442.7,206.9 L443.1,209.4 L443.5,211.9 L444.0,214.4 L444.4,216.9 L444.8,219.4 L445.2,221.9 L445.6,224.4 L446.1,226.9 L446.5,229.4 L446.9,231.9 L447.4,234.3 L447.8,236.8 L448.2,239.3 L448.7,241.8 L449.1,244.3 L449.6,246.8 L450.0,249.3 L450.5,251.7 L451.0,254.2 L451.4,256.7 L451.9,259.2 L452.3,261.7 L452.8,264.2 L453.3,266.6 L453.7,269.1 L454.2,271.6 L454.7,274.1 L455.2,276.6 L455.7,279.0 L456.1,281.5 L456.6,284.0 L457.1,286.5 L457.6,288.9 L458.1,291.4 L458.6,293.9 L459.1,296.4 L459.6,298.9 L460.1,301.3 L460.6,303.8 L461.1,306.3 L461.6,308.8 L462.1,311.2 L462.6,313.7 L463.1,316.2 L463.6,318.6 L464.1,321.1 L464.6,323.6 L465.1,326.1 L465.6,328.5 L466.1,331.0 L466.6,333.5 L467.1,336.0 L467.7,338.4 L468.2,340.9 L468.7,343.4 L469.2,345.8 L469.7,348.3 L470.2,350.8 L470.7,353.2 L471.3,355.7 L471.8,358.2 L472.3,360.7 L472.8,363.1 L473.3,365.6 L473.9,368.1 L474.4,370.5 L474.9,373.0 L475.4,375.5 L475.9,377.9 L476.5,380.4 L477.0,382.9 L477.5,385.3 L477.0,388.0 L480.3,388.0 L480.5,262.0 L482.5,238.0 L482.5,134.5 L482.3,137.2 L482.9,139.6 L483.5,142.1 L484.1,144.5 L484.6,146.9 L485.2,149.4 L485.8,151.8 L486.4,154.3 L486.9,156.7 L487.5,159.1 L488.1,161.6 L488.6,164.0 L489.2,166.5 L489.7,168.9 L490.3,171.4 L490.8,173.8 L491.4,176.3 L491.9,178.7 L492.5,181.2 L493.0,183.6 L493.6,186.1 L494.1,188.5 L494.6,191.0 L495.2,193.4 L495.7,195.9 L496.2,198.3 L496.8,200.8 L497.3,203.2 L497.8,205.7 L498.3,208.1 L498.8,210.6 L499.4,213.0 L499.9,215.5 L500.4,217.9 L500.9,220.4 L501.4,222.9 L501.9,225.3 L502.4,227.8 L502.9,230.2 L503.4,232.7 L503.9,235.1 L504.4,237.6 L504.9,240.1 L505.4,242.5 L505.9,245.0 L506.4,247.4 L506.9,249.9 L507.4,252.4 L507.8,254.8 L508.3,257.3 L508.8,259.8 L509.3,262.2 L509.8,264.7 L510.2,267.1 L510.7,269.6 L511.2,272.1 L511.7,274.5 L512.1,277.0 L512.6,279.5 L513.1,281.9 L513.6,284.4 L514.0,286.9 L514.5,289.3 L515.0,291.8 L515.4,294.3 L515.9,296.7 L516.3,299.2 L516.8,301.7 L517.3,304.1 L517.7,306.6 L518.2,309.1 L518.6,311.5 L519.1,314.0 L519.6,316.5 L520.0,318.9 L520.5,321.4 L520.9,323.9 L521.4,326.4 L521.8,328.8 L522.3,331.3 L522.7,333.8 L523.2,336.2 L523.6,338.7 L524.1,341.2 L524.5,343.6 L525.0,346.1 L525.4,348.6 L525.9,351.1 L526.3,353.5 L526.7,356.0 L527.2,358.5 L527.6,361.0 L528.1,363.4 L528.5,365.9 L529.0,368.4 L529.4,370.8 L529.8,373.3 L530.3,375.8 L530.7,378.3 L531.2,380.7 L531.6,383.2 L532.0,385.7 L532.5,388.2 L532.9,390.6 L533.4,393.1 L533.8,395.6 L534.2,398.0 L534.7,400.5 L535.1,403.0 L535.6,405.5 L536.0,407.9 L536.4,410.4 L536.9,412.9 L537.3,415.4 L537.8,417.8 L538.2,420.3 L538.7,422.8 L539.1,425.3 L539.5,427.7 L540.0,430.2 L540.4,432.7 L540.9,435.2 L541.3,437.6 L541.8,440.1 L542.2,442.6 L542.6,445.0 L543.1,447.5 L543.5,450.0 L544.0,452.5 L544.4,454.9 L544.9,457.4 L545.3,459.9 L545.8,462.4 L546.2,464.8 L546.7,467.3 L547.1,469.8 L547.6,472.2 L548.0,474.7 L548.5,477.2 L548.9,479.7 L549.4,482.1 L549.8,484.6 L550.3,487.1 L550.8,489.5 L551.2,492.0 L551.7,494.5 L552.1,497.0 L552.6,499.4 L553.1,501.9 L553.5,504.4 L554.0,506.8 L554.5,509.3 L554.9,511.8 L555.4,514.2 L555.9,516.7 L556.3,519.2 L556.8,521.6 L557.3,524.1 L557.8,526.6 L558.2,529.1 L558.7,531.5 L559.2,534.0 L559.7,536.5 L560.2,538.9 L560.6,541.4 L561.1,543.9 L561.6,546.3 L562.1,548.8 L562.6,551.2 L563.1,553.7 L563.6,556.2 L564.1,558.6 L564.6,561.1 L565.1,563.6 L565.6,566.0 L566.1,568.5 L566.6,571.0 L567.1,573.4 L567.6,575.9 L568.1,578.3 L568.6,580.8 L569.1,583.3 L569.6,585.7 L570.2,588.2 L570.7,590.6 L571.2,593.1 L571.7,595.6 L572.3,598.0 L572.8,600.5 L573.3,602.9 L573.8,605.4 L574.4,607.8 L574.9,610.3 L575.5,612.7 L576.0,615.2 L576.5,617.7 L577.1,620.1 L577.6,622.6 L578.2,625.0 L578.8,627.5 L579.3,629.9 L579.9,632.4 L580.4,634.8 L581.0,637.3 L581.6,639.7 L582.1,642.1 L582.7,644.6 L583.3,647.0 L583.9,649.5 L584.5,651.9 L585.0,654.4 L585.6,656.8 L586.2,659.3 L586.8,661.7 L587.4,664.1 L588.0,666.6 L588.6,669.0 L589.2,671.4 L589.8,673.9 L590.5,676.3 L591.1,678.7 L591.7,681.2 L592.3,683.6 L592.9,686.0 L593.6,688.5 L594.2,690.9 L594.8,693.3 L595.5,695.7 L596.1,698.2 L596.8,700.6 L597.4,703.0 L598.1,705.4 L598.8,707.9 L599.4,710.3 L600.1,712.7 L600.8,715.1 L601.4,717.5 L602.1,719.9 L602.8,722.4 L603.5,724.8 L604.2,727.2 L604.9,729.6 L605.6,732.0 L606.3,734.4 L607.0,736.8 L607.7,739.2 L608.4,741.6 L609.1,744.0 L609.9,746.4 L610.6,748.8 L611.3,751.2 L612.1,753.6 L612.8,756.0 L613.6,758.4 L614.3,760.8 L615.1,763.2 L615.8,765.5 L616.6,767.9 L617.4,770.3 L618.2,772.7 L618.9,775.1 L619.7,777.5 L620.5,779.8 L621.3,782.2 L622.1,784.6 L622.9,787.0 L623.7,789.3 L624.5,791.7 L625.4,794.1 L626.2,796.4 L627.0,798.8 L627.9,801.1 L628.7,803.5 L629.5,805.9 L630.4,808.2 L631.2,810.6 L632.1,812.9 L633.0,815.3 L633.9,817.6 L634.7,820.0 L635.6,822.3 L636.5,824.7 L637.4,827.0 L638.3,829.3 L639.2,831.7 L640.1,834.0 L641.0,836.4 L642.0,838.7 L642.9,841.0 L643.8,843.3 L644.8,845.7 L645.7,848.0 L646.7,850.3 L647.6,852.6 L648.6,854.9 L649.6,857.3 L650.5,859.6 L651.5,861.9 L652.5,864.2 L653.5,866.5 L654.5,868.8 L655.5,871.1 L656.5,873.4 L657.5,875.7 L658.6,878.0 L659.6,880.3 L660.6,882.6 L661.7,884.8 L662.7,887.1 L663.8,889.4 L664.9,891.7 L665.9,894.0 L667.0,896.2 L668.1,898.5 L669.2,900.8 L670.3,903.1 L671.4,905.3 L672.5,907.6 L673.6,909.8 L674.8,912.1 L675.9,914.4 L677.0,916.6 L678.2,918.9 L679.3,921.1 L680.5,923.4 L682.5,925.0 L685.5,945.0 L686.4,947.0 L687.7,949.4 L688.9,951.7 L690.2,954.0 L691.5,956.2 L692.9,958.4 L694.2,960.6 L695.6,962.7 L697.1,964.9 L698.5,966.9 L700.0,969.0 L701.5,971.0 L703.1,973.0 L704.7,974.9 L706.3,976.8 L707.9,978.7 L709.5,980.6 L711.2,982.4 L712.9,984.2 L714.6,986.0 L716.3,987.7 L718.1,989.5 L719.9,991.2 L721.7,992.8 L723.5,994.5 L725.3,996.1 L727.2,997.7 L729.1,999.3 L731.0,1000.8 L732.9,1002.4 L734.8,1003.9 L736.8,1005.4 L738.8,1006.8 L740.7,1008.3 L742.7,1009.7 L744.7,1011.2 L746.8,1012.6 L748.8,1013.9 L750.9,1015.3 L752.9,1016.7 L755.0,1018.0 L757.1,1019.3 L759.2,1020.6 L761.3,1021.9 L763.4,1023.2 L765.6,1024.5 L767.7,1025.7 L769.9,1027.0 L772.0,1028.2 L774.2,1029.5 L776.4,1030.7 L778.5,1031.9 L780.7,1033.1 L782.9,1034.3 L785.1,1035.5 L787.3,1036.7 L789.5,1037.9 L791.7,1039.1 L793.9,1040.2 L796.1,1041.4 L798.3,1042.6 L800.6,1043.7 L802.8,1044.9 L805.0,1046.0 L807.2,1047.2 L809.4,1048.3 L811.7,1049.5 L813.9,1050.6 L816.1,1051.8 L818.4,1052.9 L820.6,1054.0 L822.8,1055.2 L825.1,1056.3 L827.3,1057.4 L829.6,1058.5 L831.8,1059.7 L834.1,1060.8 L836.3,1061.9 L838.6,1063.0 L840.8,1064.1 L843.1,1065.3 L845.3,1066.4 L847.6,1067.5 L849.8,1068.6 L852.1,1069.7 L854.3,1070.8 L856.6,1072.0 L858.8,1073.1 L861.1,1074.2 L863.3,1075.3 L865.6,1076.4 L867.8,1077.6 L870.1,1078.7 L872.3,1079.8 L874.6,1080.9 L876.8,1082.1 L879.1,1083.2 L881.3,1084.3 L883.6,1085.5 L885.8,1086.6 L888.0,1087.7 L890.3,1088.9 L892.5,1090.0 L894.8,1091.2 L897.0,1092.3 L899.2,1093.5 L901.5,1094.6 L903.7,1095.8 L905.9,1097.0 L908.1,1098.2 L910.4,1099.3 L912.6,1100.5 L914.8,1101.7 L917.0,1102.9 L919.2,1104.1 L921.4,1105.3 L923.6,1106.5 L925.8,1107.7 L928.0,1108.9 L930.2,1110.1 L932.4,1111.4 L934.6,1112.6 L936.8,1113.8 L939.0,1115.1 L941.2,1116.4 L943.3,1117.6 L945.5,1118.9 L947.7,1120.2 L949.8,1121.4 L952.0,1122.7 L954.1,1124.0 L956.3,1125.3 L958.4,1126.7 L960.5,1128.0 L962.7,1129.3 L964.8,1130.7 L966.9,1132.0 L969.0,1133.3 L971.2,1134.7 L973.3,1136.1 L975.4,1137.4 L977.5,1138.8 L979.6,1140.2 L981.7,1141.5 L983.8,1142.9 L985.9,1144.3 L988.0,1145.7 L990.1,1147.1 L992.2,1148.5 L994.3,1149.8 L996.4,1151.2 L998.5,1152.6 L1000.6,1154.0 L1002.7,1155.4 L1004.8,1156.8 L1006.8,1158.2 L1008.9,1159.6 L1011.0,1161.0 L1013.1,1162.3 L1015.2,1163.7 L1017.3,1165.1 L1019.4,1166.5 L1021.5,1167.8 L1023.6,1169.2 L1025.8,1170.6 L1027.9,1171.9 L1030.0,1173.3 L1032.1,1174.6 L1034.2,1176.0 L1036.3,1177.3 L1038.5,1178.6 L1040.6,1179.9 L1042.7,1181.2 L1044.9,1182.5 L1047.0,1183.8 L1049.2,1185.1 L1051.3,1186.4 L1053.5,1187.7 L1055.7,1188.9 L1057.9,1190.2 L1060.0,1191.4 L1062.2,1192.6 L1064.4,1193.8 L1066.6,1195.0 L1068.8,1196.2 L1071.0,1197.4 L1073.3,1198.5 L1075.5,1199.7 L1077.7,1200.8 L1080.0,1202.0 L1082.2,1203.1 L1084.5,1204.2 L1086.7,1205.3 L1089.0,1206.3 L1091.3,1207.4 L1093.5,1208.4 L1095.8,1209.5 L1098.1,1210.5 L1100.4,1211.5 L1102.7,1212.5 L1105.0,1213.5 L1107.3,1214.5 L1109.7,1215.4 L1112.0,1216.4 L1114.3,1217.3 L1116.7,1218.2 L1119.0,1219.1 L1121.3,1220.0 L1123.7,1220.9 L1126.1,1221.7 L1128.4,1222.6 L1130.8,1223.4 L1133.1,1224.2 L1135.5,1225.1 L1137.9,1225.9 L1140.3,1226.6 L1142.7,1227.4 L1145.1,1228.2 L1147.5,1228.9 L1149.9,1229.6 L1152.3,1230.4 L1154.7,1231.1 L1157.1,1231.7 L1159.5,1232.4 L1161.9,1233.1 L1164.3,1233.7 L1166.8,1234.4 L1169.2,1235.0 L1171.6,1235.6 L1174.1,1236.2 L1176.5,1236.7 L1178.9,1237.3 L1181.4,1237.9 L1183.8,1238.4 L1186.3,1238.9 L1188.7,1239.4 L1191.2,1239.9 L1193.6,1240.4 L1196.1,1240.8 L1198.6,1241.3 L1201.0,1241.7 L1203.5,1242.1 L1206.0,1242.6 L1208.4,1242.9 L1210.9,1243.3 L1213.4,1243.7 L1215.8,1244.0 L1218.3,1244.4 L1220.8,1244.7 L1223.3,1245.0 L1225.7,1245.3 L1228.2,1245.5 L1230.7,1245.8 L1233.2,1246.0 L1235.7,1246.3 L1238.2,1246.5 L1240.6,1246.7 L1243.1,1246.9 L1245.6,1247.1 L1248.1,1247.3 L1250.6,1247.4 L1253.1,1247.5 L1255.6,1247.7 L1258.1,1247.8 L1260.6,1247.9 L1263.1,1248.0 L1265.6,1248.1 L1268.1,1248.2 L1270.6,1248.2 L1273.1,1248.3 L1275.6,1248.3 L1278.1,1248.4 L1280.6,1248.4 L1283.1,1248.4 L1285.6,1248.4 L1288.1,1248.4 L1290.6,1248.4 L1293.1,1248.3 L1295.6,1248.3 L1298.1,1248.3 L1300.6,1248.2 L1303.1,1248.1 L1305.6,1248.1 L1308.1,1248.0 L1310.6,1247.9 L1313.1,1247.8 L1315.6,1247.7 L1318.2,1247.6 L1320.7,1247.5 L1323.2,1247.4 L1325.7,1247.2 L1328.2,1247.1 L1330.7,1247.0 L1333.2,1246.8 L1335.7,1246.7 L1338.3,1246.5 L1340.8,1246.3 L1343.3,1246.2 L1345.8,1246.0 L1348.3,1245.8 L1350.8,1245.6 L1353.3,1245.4 L1355.9,1245.2 L1358.4,1245.0 L1360.9,1244.8 L1363.4,1244.6 L1365.9,1244.4 L1368.4,1244.2 L1370.9,1244.0 L1373.5,1243.8 L1376.0,1243.5 L1378.5,1243.3 L1381.0,1243.1 L1383.5,1242.9 L1386.0,1242.6 L1388.5,1242.4 L1391.1,1242.2 L1393.6,1241.9 L1396.1,1241.7 L1398.6,1241.4 L1401.1,1241.2 L1403.6,1241.0 L1406.1,1240.7 L1408.6,1240.5 L1411.2,1240.2 L1413.7,1240.0 L1416.2,1239.7 L1418.7,1239.5 L1421.2,1239.2 L1423.7,1239.0 L1426.2,1238.8 L1428.7,1238.5 L1431.2,1238.3 L1433.7,1238.0 L1436.2,1237.8 L1438.7,1237.5 L1441.3,1237.3 L1443.8,1237.0 L1446.3,1236.8 L1448.8,1236.6 L1451.3,1235.6 L1452.6,1235.5 L1453.9,1236.5 L1455.2,1234.6 L1456.5,1235.7 L1457.8,1234.4 L1459.1,1236.2 L1460.4,1235.5 L1461.7,1236.1 L1463.0,1234.9 L1464.3,1235.3 L1465.6,1234.7 L1466.9,1234.3 L1468.2,1234.8 L1469.5,1233.8 L1470.8,1234.2 L1472.1,1234.7 L1473.4,1234.2 L1474.7,1233.8 L1476.0,1235.2 L1477.3,1233.8 L1478.6,1233.3 L1479.9,1233.6 L1481.2,1233.1 L1482.5,1233.0 L1483.8,1232.9 L1485.1,1234.3 L1486.4,1232.9 L1487.7,1232.9 L1489.0,1233.1 L1490.3,1233.8 L1491.6,1232.2 L1492.9,1231.9 L1494.2,1233.5 L1495.5,1231.1 L1496.8,1231.6 L1498.1,1232.2 L1499.4,1233.0 L1500.7,1230.9 L1502.0,1230.0 L1503.3,1231.7 L1504.6,1230.8 L1505.9,1230.7 L1507.2,1231.1 L1508.5,1230.9 L1509.8,1230.8 L1511.1,1230.2 L1512.4,1231.2 L1513.7,1231.2 L1515.0,1230.1 L1516.3,1229.7 L1517.6,1230.3 L1518.9,1230.0 L1520.2,1228.9 L1521.5,1229.2 L1522.8,1230.0 L1524.1,1229.1 L1525.4,1228.9 L1526.7,1229.1 L1528.0,1228.8 L1529.3,1228.7 L1530.6,1227.3 L1531.9,1229.6 L1533.2,1228.4 L1534.5,1227.6 L1535.8,1228.7 L1537.1,1228.1 L1538.4,1227.8 L1539.7,1228.4 L1541.0,1229.1 L1542.3,1227.8 L1543.6,1228.4 L1544.9,1228.7 L1546.2,1226.3 L1547.5,1226.5 L1548.8,1227.3 L1550.1,1225.4 L1551.4,1226.3 L1552.7,1227.3 L1554.0,1227.0 L1555.3,1226.6 L1556.6,1224.6 L1557.9,1227.5 L1559.2,1226.2 L1560.5,1226.2 L1561.8,1225.9 L1563.1,1224.1 L1564.4,1224.2 L1565.7,1224.2 L1567.0,1226.4 L1568.3,1224.2 L1569.6,1224.5 L1570.9,1224.4 L1572.2,1224.9 L1573.5,1224.7 L1574.8,1224.4 L1576.1,1223.1 L1577.4,1222.2 L1578.7,1224.0 L1580.0,1223.9 L1581.3,1224.5 L1582.6,1223.4 L1583.9,1222.8 L1585.2,1223.5 L1586.5,1221.8 L1587.8,1222.1 L1589.1,1222.0 L1590.4,1222.9 L1591.7,1224.3 L1593.0,1223.0 L1594.3,1223.2 L1595.6,1222.4 L1596.9,1222.3 L1598.2,1221.5 L1599.5,1221.5 L1600.8,1219.8 L1602.1,1220.5 L1603.4,1220.3 L1604.7,1222.0 L1606.0,1221.7 L1607.3,1222.0 L1608.6,1222.2 L1609.9,1220.5 L1611.2,1221.5 L1612.5,1222.2 L1613.8,1220.3 L1615.1,1221.2 L1616.4,1219.9 L1617.7,1218.5 L1619.0,1219.9 L1620.3,1218.9 L1621.6,1219.7 L1622.9,1219.0 L1624.2,1219.6 L1625.5,1217.2 L1626.8,1221.0 L1628.1,1220.2 L1629.4,1218.5 L1630.7,1217.8 L1632.0,1218.5 L1633.3,1219.1 L1634.6,1218.7 L1635.9,1218.5 L1637.2,1216.1 L1638.5,1216.8 L1639.8,1219.1 L1641.1,1217.9 L1642.4,1216.0 L1643.7,1216.5 L1645.0,1215.8 L1646.3,1216.1 L1647.6,1218.2 L1648.9,1216.6 L1650.2,1217.9 L1651.5,1216.8 L1652.8,1214.9 L1654.1,1215.6 L1655.4,1218.5 L1656.7,1215.2 L1658.0,1214.8 L1659.3,1217.2 L1660.6,1215.8 L1661.9,1215.5 L1663.2,1217.1 L1664.5,1213.3 L1665.8,1215.6 L1667.1,1213.8 L1668.4,1213.3 L1669.7,1213.8 L1671.0,1216.0 L1672.3,1214.3 L1673.6,1212.2 L1674.9,1212.9 L1676.2,1215.9 L1677.5,1215.2 L1678.8,1212.5 L1680.1,1216.3 L1681.4,1213.1 L1682.7,1212.0 L1684.0,1213.2 L1685.3,1214.3 L1686.6,1215.1 L1687.9,1214.2 L1689.2,1212.3 L1690.5,1212.0 L1691.8,1210.7 L1693.1,1212.3 L1694.4,1211.5 L1695.7,1212.5 L1697.0,1210.4 L1698.3,1211.2 L1699.6,1210.6 L1700.9,1210.0 L1702.2,1209.9 L1703.5,1210.0 L1704.8,1209.6 L1706.1,1211.9 L1707.4,1211.1 L1708.7,1209.0 L1710.0,1211.4 L1711.3,1211.0 L1712.6,1212.4 L1713.9,1210.0 L1715.2,1209.9 L1716.5,1209.1 L1717.8,1210.1 L1719.1,1210.5 L1720.4,1209.9 L1721.7,1209.1 L1723.0,1210.2 L1724.3,1209.4 L1725.6,1209.5 L1726.9,1207.6 L1728.2,1209.1 L1729.5,1207.2 L1730.8,1207.3 L1732.1,1208.7 L1733.4,1211.5 L1734.7,1209.7 L1736.0,1208.0 L1737.3,1207.6 L1738.6,1209.3 L1739.9,1209.8 L1741.2,1209.4 L1742.5,1207.1 L1743.8,1207.5 L1745.1,1206.6 L1746.4,1206.5 L1747.7,1205.5 L1749.0,1206.3 L1750.3,1203.1 L1751.6,1204.5 L1752.9,1207.0 L1754.2,1204.7 L1755.5,1206.9 L1756.8,1203.8 L1758.1,1205.2 L1759.4,1206.3 L1760.7,1203.8 L1762.0,1204.2 L1763.3,1208.9 L1764.6,1203.9 L1765.9,1203.8 L1767.2,1203.8 L1768.5,1204.8 L1769.8,1204.5 L1771.1,1206.2 L1772.4,1205.7 L1773.7,1203.4 L1775.0,1203.4 L1776.3,1201.3 L1777.6,1201.1 L1778.9,1202.3 L1780.2,1204.8 L1781.5,1203.6 L1782.8,1204.7 L1784.1,1204.8 L1785.4,1202.6 L1786.7,1206.8 L1788.0,1201.7 L1789.3,1201.4 L1790.6,1201.6 L1791.9,1204.5 L1793.2,1201.9 L1794.5,1200.6 L1795.8,1202.7 L1797.1,1204.0 L1798.4,1201.4 L1799.7,1201.0 L1801.0,1203.5 L1802.3,1203.2 L1803.6,1203.0 L1804.9,1199.4 L1806.2,1201.4 L1807.5,1201.4 L1808.8,1196.8 L1810.1,1202.9 L1811.4,1200.5 L1812.7,1199.4 L1814.0,1204.5 L1815.3,1200.1 L1816.6,1198.2 L1817.9,1199.4 L1819.2,1200.6 L1820.5,1201.0 L1821.8,1199.0 L1823.1,1197.1 L1824.4,1197.4 L1825.7,1197.0 L1827.0,1196.3 L1828.3,1198.4 L1829.6,1197.2 L1830.9,1198.3 L1832.2,1196.2 L1833.5,1196.0 L1834.8,1197.4 L1836.1,1196.9 L1837.4,1200.1 L1838.7,1195.3 L1840.0,1197.7 L1841.3,1197.0 L1842.6,1193.9 L1843.9,1198.5 L1845.2,1197.1 L1846.5,1191.6 L1847.8,1197.8 L1849.1,1198.5 L1850.4,1194.2 L1851.7,1200.1 L1853.0,1196.2 L1854.3,1192.9 L1855.6,1197.0 L1856.9,1194.6 L1858.2,1192.0 L1859.5,1189.9 L1860.8,1195.6 L1862.1,1193.1 L1863.4,1196.4 L1864.7,1195.6 L1866.0,1193.2 L1867.3,1193.0 L1868.6,1198.7 L1869.9,1198.5 L1871.2,1195.9 L1872.5,1192.9 L1873.8,1191.1 L1875.1,1192.5 L1876.4,1197.9 L1877.7,1194.9 L1878.0,1192.9" stroke="#ff00ff"/>
<path d="M429.3,142.4 L429.6,144.9 L429.8,147.4 L430.0,149.9 L430.2,152.5 L430.4,155.0 L430.7,157.5 L430.9,160.0 L431.1,162.5 L431.3,165.0 L431.6,167.6 L431.8,170.1 L432.1,172.6 L432.3,175.1 L432.6,177.6 L432.8,180.1 L433.1,182.6 L433.4,185.2 L433.7,187.7 L433.9,190.2 L434.2,192.7 L434.5,195.2 L434.8,197.7 L435.1,200.2 L435.4,202.7 L435.7,205.2 L436.0,207.7 L436.3,210.2 L436.7,212.7 L437.0,215.2 L437.3,217.7 L437.6,220.2 L438.0,222.7 L438.3,225.3 L438.7,227.8 L439.0,230.3 L439.4,232.8 L439.7,235.3 L440.1,237.8 L440.4,240.2 L440.8,242.7 L441.2,245.2 L441.6,247.7 L441.9,250.2 L442.3,252.7 L442.7,255.2 L443.1,257.7 L443.5,260.2 L443.9,262.7 L444.3,265.2 L444.7,267.7 L445.1,270.2 L445.5,272.7 L446.0,275.2 L446.4,277.7 L446.8,280.1 L447.2,282.6 L447.7,285.1 L448.1,287.6 L448.6,290.1 L449.0,292.6 L449.4,295.1 L449.9,297.5 L450.4,300.0 L450.8,302.5 L451.3,305.0 L451.7,307.5 L452.2,310.0 L452.7,312.4 L453.2,314.9 L453.6,317.4 L454.1,319.9 L454.6,322.4 L455.1,324.8 L455.6,327.3 L456.1,329.8 L456.6,332.3 L457.1,334.7 L457.6,337.2 L458.1,339.7 L458.6,342.2 L459.1,344.6 L459.6,347.1 L460.1,349.6 L460.7,352.1 L461.2,354.5 L461.7,357.0 L462.2,359.5 L462.8,361.9 L463.3,364.4 L463.8,366.9 L464.4,369.3 L464.9,371.8 L465.5,374.3 L466.0,376.7 L466.6,379.2 L467.1,381.7 L467.7,384.1 L468.3,386.6 L468.8,389.0 L469.4,391.5 L469.9,394.0 L470.5,396.4 L471.1,398.9 L471.7,401.3 L472.2,403.8 L472.8,406.3 L473.4,408.7 L474.0,411.2 L474.6,413.6 L475.2,416.1 L475.8,418.5 L476.4,421.0 L477.0,423.4 L477.6,425.9 L478.2,428.3 L478.8,430.8 L479.4,433.3 L480.0,435.7 L480.6,438.2 L481.2,440.6 L482.0,443.0 L482.0,134.7 L482.8,137.3 L483.5,139.7 L484.1,142.1 L484.8,144.5 L485.4,146.9 L486.1,149.4 L486.7,151.8 L487.4,154.2 L488.0,156.6 L488.6,159.0 L489.3,161.4 L489.9,163.9 L490.5,166.3 L491.1,168.7 L491.7,171.1 L492.4,173.6 L493.0,176.0 L493.6,178.4 L494.2,180.8 L494.8,183.3 L495.4,185.7 L496.0,188.1 L496.6,190.6 L497.1,193.0 L497.7,195.4 L498.3,197.9 L498.9,200.3 L499.4,202.7 L500.0,205.2 L500.6,207.6 L501.1,210.1 L501.7,212.5 L502.3,214.9 L502.8,217.4 L503.4,219.8 L503.9,222.3 L504.5,224.7 L505.0,227.2 L505.6,229.6 L506.1,232.1 L506.6,234.5 L507.2,236.9 L507.7,239.4 L508.2,241.8 L508.8,244.3 L509.3,246.8 L509.8,249.2 L510.3,251.7 L510.8,254.1 L511.4,256.6 L511.9,259.0 L512.4,261.5 L512.9,263.9 L513.4,266.4 L513.9,268.9 L514.4,271.3 L514.9,273.8 L515.4,276.2 L515.9,278.7 L516.4,281.2 L516.9,283.6 L517.4,286.1 L517.8,288.5 L518.3,291.0 L518.8,293.5 L519.3,295.9 L519.8,298.4 L520.3,300.9 L520.7,303.3 L521.2,305.8 L521.7,308.3 L522.2,310.7 L522.6,313.2 L523.1,315.7 L523.6,318.1 L524.0,320.6 L524.5,323.1 L525.0,325.5 L525.4,328.0 L525.9,330.5 L526.3,333.0 L526.8,335.4 L527.3,337.9 L527.7,340.4 L528.2,342.8 L528.6,345.3 L529.1,347.8 L529.5,350.3 L530.0,352.7 L530.4,355.2 L530.9,357.7 L531.3,360.2 L531.8,362.6 L532.2,365.1 L532.7,367.6 L533.1,370.1 L533.6,372.5 L534.0,375.0 L534.4,377.5 L534.9,380.0 L535.3,382.4 L535.8,384.9 L536.2,387.4 L536.7,389.9 L537.1,392.3 L537.5,394.8 L538.0,397.3 L538.4,399.8 L538.9,402.3 L539.3,404.7 L539.7,407.2 L540.2,409.7 L540.6,412.2 L541.1,414.6 L541.5,417.1 L541.9,419.6 L542.4,422.1 L542.8,424.6 L543.3,427.0 L543.7,429.5 L544.1,432.0 L544.6,434.5 L545.0,436.9 L545.5,439.4 L545.9,441.9 L546.3,444.4 L546.8,446.9 L547.2,449.3 L547.7,451.8 L548.1,454.3 L548.5,456.8 L549.0,459.2 L549.4,461.7 L549.9,464.2 L550.3,466.7 L550.8,469.1 L551.2,471.6 L551.7,474.1 L552.1,476.6 L552.6,479.0 L553.0,481.5 L553.5,484.0 L553.9,486.5 L554.4,488.9 L554.8,491.4 L555.3,493.9 L555.7,496.4 L556.2,498.8 L556.7,501.3 L557.1,503.8 L557.6,506.2 L558.0,508.7 L558.5,511.2 L559.0,513.7 L559.4,516.1 L559.9,518.6 L560.4,521.1 L560.8,523.5 L561.3,526.0 L561.8,528.5 L562.3,530.9 L562.7,533.4 L563.2,535.9 L563.7,538.3 L564.2,540.8 L564.7,543.3 L565.2,545.7 L565.6,548.2 L566.1,550.7 L566.6,553.1 L567.1,555.6 L567.6,558.0 L568.1,560.5 L568.6,563.0 L569.1,565.4 L569.6,567.9 L570.1,570.3 L570.6,572.8 L571.1,575.3 L571.6,577.7 L572.2,580.2 L572.7,582.6 L573.2,585.1 L573.7,587.5 L574.2,590.0 L574.8,592.4 L575.3,594.9 L575.8,597.4 L576.4,599.8 L576.9,602.3 L577.4,604.7 L578.0,607.1 L578.5,609.6 L579.1,612.0 L579.6,614.5 L580.2,616.9 L580.7,619.4 L581.3,621.8 L581.8,624.3 L582.4,626.7 L583.0,629.1 L583.5,631.6 L584.1,634.0 L584.7,636.5 L585.3,638.9 L585.8,641.3 L586.4,643.8 L587.0,646.2 L587.6,648.6 L588.2,651.1 L588.8,653.5 L589.4,655.9 L590.0,658.4 L590.6,660.8 L591.2,663.2 L591.9,665.6 L592.5,668.1 L593.1,670.5 L593.7,672.9 L594.4,675.3 L595.0,677.8 L595.6,680.2 L596.3,682.6 L596.9,685.0 L597.6,687.4 L598.2,689.8 L598.9,692.3 L599.5,694.7 L600.2,697.1 L600.9,699.5 L601.5,701.9 L602.2,704.3 L602.9,706.7 L603.6,709.1 L604.3,711.5 L605.0,713.9 L605.7,716.3 L606.4,718.7 L607.1,721.1 L607.8,723.5 L608.5,725.9 L609.2,728.3 L609.9,730.7 L610.7,733.1 L611.4,735.5 L612.1,737.9 L612.9,740.3 L613.6,742.7 L614.4,745.1 L615.1,747.5 L615.9,749.8 L616.6,752.2 L617.4,754.6 L618.2,757.0 L619.0,759.4 L619.8,761.7 L620.5,764.1 L621.3,766.5 L622.1,768.9 L622.9,771.2 L623.8,773.6 L624.6,776.0 L625.4,778.3 L626.2,780.7 L627.0,783.1 L627.9,785.4 L628.7,787.8 L629.6,790.1 L630.4,792.5 L631.3,794.9 L632.1,797.2 L633.0,799.6 L633.9,801.9 L634.8,804.3 L635.6,806.6 L636.5,809.0 L637.4,811.3 L638.3,813.6 L639.2,816.0 L640.1,818.3 L641.1,820.7 L642.0,823.0 L642.9,825.3 L643.9,827.7 L644.8,830.0 L645.7,832.3 L646.7,834.6 L647.7,837.0 L648.6,839.3 L649.6,841.6 L650.6,843.9 L651.6,846.3 L652.5,848.6 L653.5,850.9 L654.5,853.2 L655.6,855.5 L656.6,857.8 L657.6,860.1 L658.6,862.4 L659.7,864.7 L660.7,867.0 L661.7,869.3 L662.8,871.6 L663.9,873.9 L664.9,876.2 L666.0,878.5 L667.1,880.8 L668.2,883.1 L669.3,885.4 L670.4,887.7 L671.5,889.9 L672.6,892.2 L673.7,894.5 L674.8,896.8 L676.0,899.0 L677.1,901.3 L678.3,903.6 L679.4,905.9 L680.6,908.1 L681.8,910.4 L682.9,912.6 L684.0,914.5 L685.0,933.0 L687.2,934.3 L688.3,936.5 L689.5,938.8 L690.8,941.0 L692.1,943.2 L693.4,945.4 L694.7,947.6 L696.0,949.8 L697.4,951.9 L698.9,954.0 L700.3,956.1 L701.8,958.1 L703.3,960.1 L704.8,962.2 L706.4,964.1 L707.9,966.1 L709.6,968.0 L711.2,969.9 L712.9,971.8 L714.6,973.6 L716.3,975.5 L718.0,977.2 L719.8,979.0 L721.6,980.7 L723.4,982.5 L725.2,984.1 L727.1,985.8 L729.0,987.4 L730.9,989.0 L732.9,990.5 L734.8,992.0 L736.8,993.5 L738.8,995.0 L740.9,996.4 L742.9,997.8 L745.0,999.1 L747.1,1000.5 L749.2,1001.8 L751.3,1003.0 L753.5,1004.2 L755.7,1005.5 L757.8,1006.6 L760.1,1007.8 L762.3,1008.9 L764.5,1010.0 L766.8,1011.0 L769.0,1012.1 L771.3,1013.1 L773.6,1014.1 L775.9,1015.0 L778.2,1016.0 L780.6,1016.9 L782.9,1017.8 L785.3,1018.7 L787.6,1019.5 L790.0,1020.3 L792.4,1021.1 L794.7,1021.9 L797.1,1022.7 L799.5,1023.5 L801.9,1024.2 L804.3,1025.0 L806.7,1025.7 L809.1,1026.4 L811.5,1027.1 L813.9,1027.8 L816.4,1028.5 L818.8,1029.2 L821.2,1029.9 L823.6,1030.6 L826.0,1031.4 L828.4,1032.1 L830.8,1032.8 L833.2,1033.5 L835.6,1034.3 L838.0,1035.0 L840.4,1035.8 L842.8,1036.6 L845.2,1037.4 L847.5,1038.1 L849.9,1038.9 L852.3,1039.7 L854.6,1040.6 L857.0,1041.4 L859.4,1042.2 L861.7,1043.0 L864.1,1043.9 L866.4,1044.7 L868.8,1045.6 L871.1,1046.5 L873.5,1047.3 L875.8,1048.2 L878.1,1049.1 L880.5,1050.0 L882.8,1050.9 L885.1,1051.8 L887.4,1052.8 L889.8,1053.7 L892.1,1054.6 L894.4,1055.6 L896.7,1056.5 L899.0,1057.5 L901.3,1058.5 L903.6,1059.4 L905.9,1060.4 L908.2,1061.4 L910.5,1062.4 L912.8,1063.4 L915.0,1064.4 L917.3,1065.4 L919.6,1066.4 L921.9,1067.5 L924.1,1068.5 L926.4,1069.5 L928.7,1070.6 L930.9,1071.6 L933.2,1072.7 L935.5,1073.8 L937.7,1074.8 L940.0,1075.9 L942.2,1077.0 L944.5,1078.1 L946.7,1079.2 L949.0,1080.3 L951.2,1081.4 L953.4,1082.5 L955.7,1083.6 L957.9,1084.7 L960.1,1085.9 L962.4,1087.0 L964.6,1088.1 L966.8,1089.3 L969.0,1090.4 L971.2,1091.6 L973.5,1092.7 L975.7,1093.9 L977.9,1095.1 L980.1,1096.3 L982.3,1097.4 L984.5,1098.6 L986.7,1099.8 L988.9,1101.0 L991.1,1102.2 L993.3,1103.4 L995.5,1104.6 L997.7,1105.9 L999.8,1107.1 L1002.0,1108.3 L1004.2,1109.5 L1006.4,1110.8 L1008.6,1112.0 L1010.8,1113.2 L1012.9,1114.5 L1015.1,1115.7 L1017.3,1117.0 L1019.4,1118.2 L1021.6,1119.5 L1023.8,1120.8 L1025.9,1122.0 L1028.1,1123.3 L1030.3,1124.6 L1032.4,1125.9 L1034.6,1127.1 L1036.7,1128.4 L1038.9,1129.7 L1041.0,1131.0 L1043.2,1132.3 L1045.3,1133.6 L1047.5,1134.9 L1049.6,1136.2 L1051.7,1137.5 L1053.9,1138.9 L1056.0,1140.2 L1058.2,1141.5 L1060.3,1142.8 L1062.4,1144.1 L1064.6,1145.4 L1066.7,1146.8 L1068.9,1148.1 L1071.0,1149.4 L1073.1,1150.7 L1075.3,1152.0 L1077.4,1153.3 L1079.5,1154.7 L1081.7,1156.0 L1083.8,1157.3 L1086.0,1158.6 L1088.1,1159.9 L1090.2,1161.2 L1092.4,1162.5 L1094.5,1163.8 L1096.7,1165.1 L1098.8,1166.4 L1101.0,1167.7 L1103.1,1169.0 L1105.3,1170.2 L1107.5,1171.5 L1109.6,1172.8 L1111.8,1174.0 L1114.0,1175.3 L1116.1,1176.5 L1118.3,1177.7 L1120.5,1179.0 L1122.7,1180.2 L1124.9,1181.4 L1127.1,1182.6 L1129.3,1183.8 L1131.5,1185.0 L1133.7,1186.2 L1135.9,1187.3 L1138.1,1188.5 L1140.3,1189.6 L1142.5,1190.8 L1144.8,1191.9 L1147.0,1193.0 L1149.2,1194.1 L1151.5,1195.2 L1153.7,1196.3 L1156.0,1197.4 L1158.3,1198.4 L1160.5,1199.5 L1162.8,1200.5 L1165.1,1201.5 L1167.4,1202.5 L1169.7,1203.5 L1172.0,1204.5 L1174.3,1205.4 L1176.7,1206.4 L1179.0,1207.3 L1181.3,1208.2 L1183.7,1209.1 L1186.0,1210.0 L1188.4,1210.8 L1190.8,1211.7 L1193.1,1212.5 L1195.5,1213.3 L1197.9,1214.1 L1200.3,1214.9 L1202.7,1215.7 L1205.1,1216.4 L1207.5,1217.2 L1209.9,1217.9 L1212.3,1218.6 L1214.7,1219.3 L1217.2,1220.0 L1219.6,1220.6 L1222.0,1221.3 L1224.5,1221.9 L1226.9,1222.5 L1229.4,1223.1 L1231.8,1223.6 L1234.3,1224.2 L1236.7,1224.7 L1239.2,1225.3 L1241.6,1225.8 L1244.1,1226.3 L1246.6,1226.7 L1249.0,1227.2 L1251.5,1227.6 L1254.0,1228.0 L1256.4,1228.5 L1258.9,1228.8 L1261.4,1229.2 L1263.9,1229.6 L1266.3,1229.9 L1268.8,1230.2 L1271.3,1230.5 L1273.8,1230.8 L1276.3,1231.1 L1278.7,1231.3 L1281.2,1231.6 L1283.7,1231.8 L1286.2,1232.0 L1288.7,1232.2 L1291.1,1232.4 L1293.6,1232.6 L1296.1,1232.7 L1298.6,1232.9 L1301.1,1233.0 L1303.6,1233.1 L1306.0,1233.2 L1308.5,1233.3 L1311.0,1233.3 L1313.5,1233.4 L1316.0,1233.4 L1318.5,1233.5 L1321.0,1233.5 L1323.5,1233.5 L1326.0,1233.5 L1328.4,1233.5 L1330.9,1233.5 L1333.4,1233.4 L1335.9,1233.4 L1338.4,1233.3 L1340.9,1233.3 L1343.4,1233.2 L1345.9,1233.1 L1348.4,1233.0 L1350.9,1232.9 L1353.4,1232.8 L1355.9,1232.7 L1358.4,1232.5 L1360.9,1232.4 L1363.4,1232.2 L1365.9,1232.1 L1368.4,1231.9 L1370.9,1231.7 L1373.4,1231.5 L1375.8,1231.3 L1378.3,1231.1 L1380.8,1230.9 L1383.3,1230.7 L1385.8,1230.5 L1388.3,1230.3 L1390.8,1230.0 L1393.3,1229.8 L1395.8,1229.6 L1398.3,1229.3 L1400.8,1229.1 L1403.3,1228.8 L1405.8,1228.5 L1408.3,1228.3 L1410.8,1228.0 L1413.3,1227.7 L1415.8,1227.4 L1418.3,1227.1 L1420.8,1226.9 L1423.3,1226.6 L1425.8,1226.3 L1428.3,1226.0 L1430.8,1225.7 L1433.3,1225.4 L1435.8,1225.1 L1438.3,1224.7 L1440.8,1224.4 L1443.3,1224.1 L1445.8,1223.8 L1448.3,1223.5 L1450.8,1223.2 L1453.3,1222.8 L1455.8,1222.5 L1458.3,1222.2 L1460.8,1221.9 L1463.3,1221.6 L1465.8,1221.3 L1468.3,1220.9 L1470.8,1220.6 L1473.3,1220.3 L1475.8,1220.0 L1478.3,1219.7 L1480.8,1219.3 L1483.3,1219.0 L1485.7,1218.7 L1488.2,1218.4 L1490.7,1218.1 L1493.2,1217.8 L1495.7,1217.5 L1498.2,1217.2 L1500.7,1216.8 L1503.2,1216.5 L1505.7,1216.2 L1508.2,1215.9 L1510.7,1215.6 L1513.2,1215.3 L1515.7,1215.0 L1518.1,1214.7 L1520.6,1214.4 L1523.1,1214.1 L1525.6,1213.8 L1528.1,1213.5 L1530.6,1213.1 L1533.1,1212.8 L1535.6,1212.5 L1538.1,1212.2 L1540.5,1211.9 L1543.0,1211.6 L1545.5,1211.3 L1548.0,1211.0 L1550.5,1210.9 L1551.8,1209.8 L1553.1,1210.1 L1554.4,1210.3 L1555.7,1210.7 L1557.0,1209.9 L1558.3,1209.1 L1559.6,1209.7 L1560.9,1209.0 L1562.2,1209.8 L1563.5,1209.0 L1564.8,1209.7 L1566.1,1208.8 L1567.4,1208.2 L1568.7,1207.9 L1570.0,1208.2 L1571.3,1208.4 L1572.6,1208.5 L1573.9,1208.0 L1575.2,1207.4 L1576.5,1207.8 L1577.8,1206.8 L1579.1,1207.5 L1580.4,1206.8 L1581.7,1207.6 L1583.0,1207.2 L1584.3,1206.8 L1585.6,1206.0 L1586.9,1206.5 L1588.2,1206.3 L1589.5,1205.7 L1590.8,1205.6 L1592.1,1206.2 L1593.4,1205.3 L1594.7,1205.6 L1596.0,1205.8 L1597.3,1204.4 L1598.6,1205.7 L1599.9,1205.2 L1601.2,1204.3 L1602.5,1204.0 L1603.8,1203.7 L1605.1,1204.6 L1606.4,1202.9 L1607.7,1204.3 L1609.0,1203.7 L1610.3,1203.1 L1611.6,1203.1 L1612.9,1203.0 L1614.2,1202.9 L1615.5,1203.3 L1616.8,1202.2 L1618.1,1203.1 L1619.4,1202.9 L1620.7,1202.1 L1622.0,1202.4 L1623.3,1201.6 L1624.6,1201.8 L1625.9,1201.9 L1627.2,1202.5 L1628.5,1201.2 L1629.8,1201.0 L1631.1,1201.0 L1632.4,1200.7 L1633.7,1200.0 L1635.0,1201.6 L1636.3,1199.9 L1637.6,1199.8 L1638.9,1199.6 L1640.2,1200.3 L1641.5,1201.1 L1642.8,1201.0 L1644.1,1200.0 L1645.4,1199.5 L1646.7,1199.0 L1648.0,1198.2 L1649.3,1199.3 L1650.6,1198.5 L1651.9,1199.9 L1653.2,1198.1 L1654.5,1197.4 L1655.8,1196.6 L1657.1,1196.5 L1658.4,1198.1 L1659.7,1197.7 L1661.0,1196.4 L1662.3,1196.0 L1663.6,1197.2 L1664.9,1196.5 L1666.2,1196.9 L1667.5,1196.5 L1668.8,1195.7 L1670.1,1194.7 L1671.4,1196.1 L1672.7,1196.0 L1674.0,1195.9 L1675.3,1196.4 L1676.6,1196.2 L1677.9,1194.8 L1679.2,1195.6 L1680.5,1192.9 L1681.8,1195.4 L1683.1,1194.6 L1684.4,1195.4 L1685.7,1195.2 L1687.0,1193.2 L1688.3,1193.8 L1689.6,1194.9 L1690.9,1193.1 L1692.2,1193.5 L1693.5,1192.7 L1694.8,1193.7 L1696.1,1193.3 L1697.4,1191.9 L1698.7,1191.1 L1700.0,1190.1 L1701.3,1193.2 L1702.6,1191.7 L1703.9,1191.2 L1705.2,1191.2 L1706.5,1190.6 L1707.8,1192.3 L1709.1,1192.1 L1710.4,1188.6 L1711.7,1191.0 L1713.0,1191.0 L1714.3,1190.3 L1715.6,1190.6 L1716.9,1192.4 L1718.2,1190.6 L1719.5,1191.5 L1720.8,1191.2 L1722.1,1187.7 L1723.4,1191.8 L1724.7,1189.6 L1726.0,1188.8 L1727.3,1190.2 L1728.6,1191.8 L1729.9,1187.6 L1731.2,1187.6 L1732.5,1188.9 L1733.8,1185.7 L1735.1,1186.4 L1736.4,1187.9 L1737.7,1188.8 L1739.0,1188.3 L1740.3,1188.6 L1741.6,1188.8 L1742.9,1186.3 L1744.2,1186.3 L1745.5,1186.2 L1746.8,1186.0 L1748.1,1188.1 L1749.4,1187.6 L1750.7,1182.7 L1752.0,1186.6 L1753.3,1183.9 L1754.6,1183.6 L1755.9,1187.5 L1757.2,1187.4 L1758.5,1187.0 L1759.8,1186.0 L1761.1,1187.8 L1762.4,1182.4 L1763.7,1185.8 L1765.0,1182.9 L1766.3,1182.8 L1767.6,1180.7 L1768.9,1186.4 L1770.2,1186.8 L1771.5,1184.9 L1772.8,1182.0 L1774.1,1183.2 L1775.4,1180.7 L1776.7,1182.0 L1778.0,1185.4 L1779.3,1185.4 L1780.6,1183.4 L1781.9,1183.5 L1783.2,1181.4 L1784.5,1182.3 L1785.8,1181.0 L1787.1,1182.2 L1788.4,1179.6 L1789.7,1182.9 L1791.0,1180.1 L1792.3,1180.9 L1793.6,1180.0 L1794.9,1183.5 L1796.2,1181.9 L1797.5,1177.9 L1798.8,1177.4 L1800.1,1180.7 L1801.4,1179.4 L1802.7,1178.4 L1804.0,1179.3 L1805.3,1182.6 L1806.6,1178.2 L1807.9,1181.8 L1809.2,1176.9 L1810.5,1177.3 L1811.8,1178.5 L1813.1,1177.4 L1814.4,1176.1 L1815.7,1174.5 L1817.0,1176.1 L1818.3,1175.8 L1819.6,1176.6 L1820.9,1179.2 L1822.2,1177.6 L1823.5,1179.2 L1824.8,1176.5 L1826.1,1176.9 L1827.4,1177.2 L1828.7,1177.3 L1830.0,1178.0 L1831.3,1173.4 L1832.6,1176.0 L1833.9,1175.2 L1835.2,1177.9 L1836.5,1176.7 L1837.8,1172.4 L1839.1,1175.1 L1840.4,1175.8 L1841.7,1173.6 L1843.0,1177.0 L1844.3,1173.9 L1845.6,1169.0 L1846.9,1173.6 L1848.2,1174.9 L1849.5,1169.8 L1850.8,1174.3 L1852.1,1165.0 L1853.4,1178.2 L1854.7,1167.0 L1856.0,1169.8 L1857.3,1170.1 L1858.6,1166.3 L1859.9,1171.8 L1861.2,1167.5 L1862.5,1165.9 L1863.8,1162.8 L1865.1,1172.3 L1866.4,1173.8 L1867.7,1168.6 L1869.0,1170.1 L1870.3,1174.7 L1871.6,1170.4 L1872.9,1172.9 L1874.2,1172.2 L1875.5,1171.1 L1876.8,1169.7 L1878.0,1171.4" stroke="#808000"/>
</g>
<g fill="none" stroke="#000" stroke-width="4.5" stroke-linecap="butt">
<path d="M424.1,1355.6 V1328.1 M424.1,33.0 V60.5 M787.4,1355.6 V1328.1 M787.4,33.0 V60.5 M1150.6,1355.6 V1328.1 M1150.6,33.0 V60.5 M1513.8,1355.6 V1328.1 M1513.8,33.0 V60.5 M1877.1,1355.6 V1328.1 M1877.1,33.0 V60.5 M605.7,1355.6 V1340.1 M605.7,33.0 V48.5 M969.0,1355.6 V1340.1 M969.0,33.0 V48.5 M1332.2,1355.6 V1340.1 M1332.2,33.0 V48.5 M1695.5,1355.6 V1340.1 M1695.5,33.0 V48.5 M242.5,1355.6 H270.0 M2057.5,1355.6 H2030.0 M242.5,1152.1 H270.0 M2057.5,1152.1 H2030.0 M242.5,948.6 H270.0 M2057.5,948.6 H2030.0 M242.5,745.2 H270.0 M2057.5,745.2 H2030.0 M242.5,541.7 H270.0 M2057.5,541.7 H2030.0 M242.5,338.2 H270.0 M2057.5,338.2 H2030.0 M242.5,134.7 H270.0 M2057.5,134.7 H2030.0 M242.5,1253.9 H258.0 M2057.5,1253.9 H2042.0 M242.5,1050.4 H258.0 M2057.5,1050.4 H2042.0 M242.5,846.9 H258.0 M2057.5,846.9 H2042.0 M242.5,643.4 H258.0 M2057.5,643.4 H2042.0 M242.5,440.0 H258.0 M2057.5,440.0 H2042.0 M242.5,236.5 H258.0 M2057.5,236.5 H2042.0 M242.5,33.0 H258.0 M2057.5,33.0 H2042.0"/>
</g>
<rect x="242.5" y="33.0" width="1815.0" height="1322.6" fill="none" stroke="#000" stroke-width="4.5"/>
<g font-family="'Liberation Sans', Arial, sans-serif" font-size="56" fill="#000">
<text x="213.0" y="1369.1" text-anchor="end" textLength="74.7" lengthAdjust="spacing">0.0</text>
<text x="213.0" y="1165.6" text-anchor="end" textLength="74.7" lengthAdjust="spacing">0.5</text>
<text x="213.0" y="962.1" text-anchor="end" textLength="74.7" lengthAdjust="spacing">1.0</text>
<text x="213.0" y="758.7" text-anchor="end" textLength="74.7" lengthAdjust="spacing">1.5</text>
<text x="213.0" y="555.2" text-anchor="end" textLength="74.7" lengthAdjust="spacing">2.0</text>
<text x="213.0" y="351.7" text-anchor="end" textLength="74.7" lengthAdjust="spacing">2.5</text>
<text x="213.0" y="148.2" text-anchor="end" textLength="74.7" lengthAdjust="spacing">3.0</text>
<text x="423.6" y="1425.0" text-anchor="middle" textLength="90.0" lengthAdjust="spacing">500</text>
<text x="786.9" y="1425.0" text-anchor="middle" textLength="119.0" lengthAdjust="spacing">1000</text>
<text x="1150.1" y="1425.0" text-anchor="middle" textLength="119.0" lengthAdjust="spacing">1500</text>
<text x="1513.3" y="1425.0" text-anchor="middle" textLength="119.0" lengthAdjust="spacing">2000</text>
<text x="1876.6" y="1425.0" text-anchor="middle" textLength="119.0" lengthAdjust="spacing">2500</text>
</g>
<rect x="1428.5" y="86.5" width="572" height="484" fill="#ffffff" stroke="#222" stroke-width="1.7"/>
<g fill="none" stroke-width="8" stroke-linecap="round">
<path d="M1439.0,130.0 H1584.5" stroke="#000000"/>
<path d="M1439.0,210.8 H1584.5" stroke="#ff0000"/>
<path d="M1439.0,291.6 H1584.5" stroke="#0000ff"/>
<path d="M1439.0,372.4 H1584.5" stroke="#008080"/>
<path d="M1439.0,453.2 H1584.5" stroke="#ff00ff"/>
<path d="M1439.0,534.0 H1584.5" stroke="#808000"/>
</g>
<g font-family="'Liberation Sans', Arial, sans-serif" font-size="65.5" fill="#000">
<text x="1602.2" y="150.3" textLength="393.8" lengthAdjust="spacingAndGlyphs">5% Cr-doped</text>
<text x="1602.2" y="231.1" textLength="393.8" lengthAdjust="spacingAndGlyphs">4% Cr-doped</text>
<text x="1602.2" y="311.9" textLength="393.8" lengthAdjust="spacingAndGlyphs">3% Cr-doped</text>
<text x="1602.2" y="392.7" textLength="393.8" lengthAdjust="spacingAndGlyphs">2% Cr-doped</text>
<text x="1602.2" y="473.5" textLength="393.8" lengthAdjust="spacingAndGlyphs">1% Cr-doped</text>
<text x="1621.0" y="554.3" textLength="141.5" lengthAdjust="spacingAndGlyphs">Pure</text>
</g>
<g font-family="'Liberation Serif', 'Times New Roman', serif" font-size="66" fill="#000">
<text x="928.0" y="1532.0" textLength="444.8" lengthAdjust="spacingAndGlyphs">Wavelenght(nm)</text>
<text transform="translate(83.0,911.0) rotate(-90)" textLength="437.5" lengthAdjust="spacingAndGlyphs">Absorbance(a.u)</text>
</g>
</svg>
</body></html>
